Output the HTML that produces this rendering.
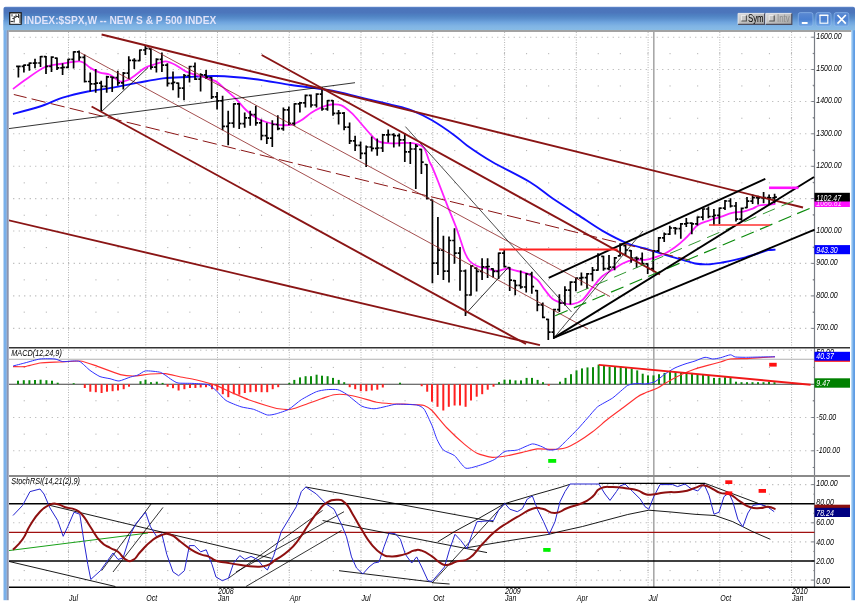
<!DOCTYPE html>
<html><head><meta charset="utf-8"><title>INDEX:$SPX,W -- NEW S &amp; P 500 INDEX</title>
<style>
html,body{margin:0;padding:0;background:#fff;}
body{width:861px;height:606px;position:relative;overflow:hidden;font-family:"Liberation Sans",sans-serif;}
svg{position:absolute;left:0;top:0;}
#chart{filter:blur(0.55px);}
#tb{position:absolute;left:0;top:0;width:861px;height:32px;}
#tb .ttl{position:absolute;left:24.1px;top:13.6px;font-size:10.5px;line-height:13px;transform-origin:0 0;transform:scaleX(0.97);font-weight:bold;color:rgba(242,238,255,.87);white-space:nowrap;}
.gt{position:absolute;top:13.8px;font-size:10px;line-height:10px;color:#000;transform-origin:0 0;transform:scaleX(0.78);white-space:nowrap;}
</style></head><body>
<svg id="frame" width="861" height="606" viewBox="0 0 861 606">
<defs>
<linearGradient id="tg" x1="0" y1="0" x2="0" y2="1">
<stop offset="0" stop-color="#6c92d6"/><stop offset="0.05" stop-color="#4c74ba"/><stop offset="0.25" stop-color="#4c76bc"/><stop offset="0.4" stop-color="#5084c4"/><stop offset="0.5" stop-color="#5a8ecc"/><stop offset="0.66" stop-color="#6ea4de"/><stop offset="0.82" stop-color="#80b4e4"/><stop offset="1" stop-color="#88bce6"/>
</linearGradient>
<linearGradient id="bg" x1="0" y1="0" x2="0" y2="1"><stop offset="0" stop-color="#5c8ad2"/><stop offset="0.5" stop-color="#4a7fd0"/><stop offset="1" stop-color="#72a8e4"/></linearGradient>
<linearGradient id="gg" x1="0" y1="0" x2="1" y2="1"><stop offset="0" stop-color="#dcdcdc"/><stop offset="0.45" stop-color="#c2c2c2"/><stop offset="1" stop-color="#a4a4a4"/></linearGradient>
</defs>
<rect x="3.5" y="20" width="3.3" height="580.2" fill="#7ab0ea"/>
<rect x="6.7" y="20" width="2" height="580.2" fill="#8c94ae"/>
<rect x="851.4" y="20" width="1.8" height="580.2" fill="#8cc0f0"/><rect x="853.1" y="20" width="1.9" height="580.2" fill="#5e9ce4"/>
<path d="M3.5,30.2V8.8Q3.5,6.8 5.5,6.8H853Q855,6.8 855,8.8V30.2Z" fill="url(#tg)"/>
<rect x="8.6" y="30.1" width="842.6" height="1.8" fill="#9a9a9a"/>
<g>
<rect x="9.1" y="12.1" width="12.7" height="12.7" fill="#1a1a1a"/>
<rect x="10.3" y="13.5" width="10.3" height="10.3" fill="#fff"/>
<path d="M14.2,16V22.5M12.3,18.5H14.2M14.2,17.2H16M16,14.5V17.5M16,16.5H18.5M18.5,14V18M12,14.2V16.5M20,14.5V23" stroke="#222" stroke-width="0.9" fill="none"/>
<path d="M10.5,21.5H13.5" stroke="#333" stroke-width="1.2"/>
</g>
<g>
<rect x="738.1" y="13.4" width="26.5" height="10.9" fill="url(#gg)"/>
<path d="M738.1,24.3V13.4H764.6" stroke="#e6e6ea" stroke-width="1" fill="none"/>
<path d="M738.1,24.3H764.6V13.4" stroke="#4c4c5c" stroke-width="1.2" fill="none"/>
<rect x="741.4" y="15.4" width="5" height="5.6" fill="#c8c8c8"/>
<path d="M741.4,21V15.4H746.4" stroke="#f0f0f0" stroke-width="0.9" fill="none"/>
<path d="M741.4,21H746.4V15.4" stroke="#505050" stroke-width="1.1" fill="none"/>
<rect x="765.8" y="13.4" width="26" height="10.9" fill="url(#gg)"/>
<path d="M765.8,24.3V13.4H791.8" stroke="#e6e6ea" stroke-width="1" fill="none"/>
<path d="M765.8,24.3H791.8V13.4" stroke="#4c4c5c" stroke-width="1.2" fill="none"/>
<rect x="769.2" y="15.4" width="5" height="5.6" fill="#c8c8c8"/>
<path d="M769.2,21V15.4H774.2" stroke="#f0f0f0" stroke-width="0.9" fill="none"/>
<path d="M769.2,21H774.2V15.4" stroke="#505050" stroke-width="1.1" fill="none"/>
</g>
<g stroke="rgba(150,190,240,.6)" stroke-width="1" fill="url(#bg)">
<rect x="798.3" y="12.6" width="14.6" height="13.6" rx="2"/>
<rect x="816" y="12.6" width="15" height="13.6" rx="2"/>
<rect x="834.2" y="12.6" width="14.6" height="13.6" rx="2"/>
</g>
<rect x="801.8" y="22" width="5.8" height="2" fill="#fff"/>
<rect x="820" y="15.4" width="7.8" height="7.8" fill="none" stroke="#fff" stroke-width="1.1"/>
<rect x="819.5" y="14.6" width="8.8" height="1.4" fill="#fff"/>
<path d="M837.5,15L845.8,23.6M845.8,15L837.5,23.6" stroke="#fff" stroke-width="1.7" fill="none"/>
</svg>
<svg id="chart" width="861" height="606" viewBox="0 0 861 606">
<defs><clipPath id="c"><rect x="9" y="32" width="842" height="574"/></clipPath></defs>
<g clip-path="url(#c)">
<g shape-rendering="auto"><line x1="68.5" y1="32" x2="68.5" y2="587" stroke="#b4b4b4" stroke-width="1" stroke-dasharray="1 1.5"/><line x1="145.8" y1="32" x2="145.8" y2="587" stroke="#b4b4b4" stroke-width="1" stroke-dasharray="1 1.5"/><line x1="217.5" y1="32" x2="217.5" y2="587" stroke="#b4b4b4" stroke-width="1" stroke-dasharray="1 1.5"/><line x1="289.3" y1="32" x2="289.3" y2="587" stroke="#b4b4b4" stroke-width="1" stroke-dasharray="1 1.5"/><line x1="361" y1="32" x2="361" y2="587" stroke="#b4b4b4" stroke-width="1" stroke-dasharray="1 1.5"/><line x1="432.8" y1="32" x2="432.8" y2="587" stroke="#b4b4b4" stroke-width="1" stroke-dasharray="1 1.5"/><line x1="504.6" y1="32" x2="504.6" y2="587" stroke="#b4b4b4" stroke-width="1" stroke-dasharray="1 1.5"/><line x1="576.3" y1="32" x2="576.3" y2="587" stroke="#b4b4b4" stroke-width="1" stroke-dasharray="1 1.5"/><line x1="648.1" y1="32" x2="648.1" y2="587" stroke="#b4b4b4" stroke-width="1" stroke-dasharray="1 1.5"/><line x1="719.8" y1="32" x2="719.8" y2="587" stroke="#b4b4b4" stroke-width="1" stroke-dasharray="1 1.5"/><line x1="791.6" y1="32" x2="791.6" y2="587" stroke="#b4b4b4" stroke-width="1" stroke-dasharray="1 1.5"/><line x1="7.7" y1="328.4" x2="814.5" y2="328.4" stroke="#b2b2b2" stroke-width="1.1" stroke-dasharray="1.1 4.4"/><line x1="7.7" y1="295.9" x2="814.5" y2="295.9" stroke="#b2b2b2" stroke-width="1.1" stroke-dasharray="1.1 4.4"/><line x1="7.7" y1="263.4" x2="814.5" y2="263.4" stroke="#b2b2b2" stroke-width="1.1" stroke-dasharray="1.1 4.4"/><line x1="7.7" y1="231" x2="814.5" y2="231" stroke="#b2b2b2" stroke-width="1.1" stroke-dasharray="1.1 4.4"/><line x1="7.7" y1="198.6" x2="814.5" y2="198.6" stroke="#b2b2b2" stroke-width="1.1" stroke-dasharray="1.1 4.4"/><line x1="7.7" y1="166.3" x2="814.5" y2="166.3" stroke="#b2b2b2" stroke-width="1.1" stroke-dasharray="1.1 4.4"/><line x1="7.7" y1="133.8" x2="814.5" y2="133.8" stroke="#b2b2b2" stroke-width="1.1" stroke-dasharray="1.1 4.4"/><line x1="7.7" y1="101.5" x2="814.5" y2="101.5" stroke="#b2b2b2" stroke-width="1.1" stroke-dasharray="1.1 4.4"/><line x1="7.7" y1="69.5" x2="814.5" y2="69.5" stroke="#b2b2b2" stroke-width="1.1" stroke-dasharray="1.1 4.4"/><line x1="7.7" y1="37.2" x2="814.5" y2="37.2" stroke="#b2b2b2" stroke-width="1.1" stroke-dasharray="1.1 4.4"/><rect x="23.7" y="311.6" width="1.1" height="1.1" fill="#b4b4b4"/><rect x="45.8" y="311.6" width="1.1" height="1.1" fill="#b4b4b4"/><rect x="67.8" y="311.6" width="1.1" height="1.1" fill="#b4b4b4"/><rect x="95.4" y="311.6" width="1.1" height="1.1" fill="#b4b4b4"/><rect x="117.5" y="311.6" width="1.1" height="1.1" fill="#b4b4b4"/><rect x="145.1" y="311.6" width="1.1" height="1.1" fill="#b4b4b4"/><rect x="167.2" y="311.6" width="1.1" height="1.1" fill="#b4b4b4"/><rect x="189.3" y="311.6" width="1.1" height="1.1" fill="#b4b4b4"/><rect x="216.9" y="311.6" width="1.1" height="1.1" fill="#b4b4b4"/><rect x="238.9" y="311.6" width="1.1" height="1.1" fill="#b4b4b4"/><rect x="261" y="311.6" width="1.1" height="1.1" fill="#b4b4b4"/><rect x="288.6" y="311.6" width="1.1" height="1.1" fill="#b4b4b4"/><rect x="310.7" y="311.6" width="1.1" height="1.1" fill="#b4b4b4"/><rect x="332.8" y="311.6" width="1.1" height="1.1" fill="#b4b4b4"/><rect x="360.4" y="311.6" width="1.1" height="1.1" fill="#b4b4b4"/><rect x="382.5" y="311.6" width="1.1" height="1.1" fill="#b4b4b4"/><rect x="404.5" y="311.6" width="1.1" height="1.1" fill="#b4b4b4"/><rect x="432.1" y="311.6" width="1.1" height="1.1" fill="#b4b4b4"/><rect x="454.2" y="311.6" width="1.1" height="1.1" fill="#b4b4b4"/><rect x="476.3" y="311.6" width="1.1" height="1.1" fill="#b4b4b4"/><rect x="503.9" y="311.6" width="1.1" height="1.1" fill="#b4b4b4"/><rect x="526" y="311.6" width="1.1" height="1.1" fill="#b4b4b4"/><rect x="548.1" y="311.6" width="1.1" height="1.1" fill="#b4b4b4"/><rect x="575.7" y="311.6" width="1.1" height="1.1" fill="#b4b4b4"/><rect x="597.7" y="311.6" width="1.1" height="1.1" fill="#b4b4b4"/><rect x="619.8" y="311.6" width="1.1" height="1.1" fill="#b4b4b4"/><rect x="647.4" y="311.6" width="1.1" height="1.1" fill="#b4b4b4"/><rect x="669.5" y="311.6" width="1.1" height="1.1" fill="#b4b4b4"/><rect x="697.1" y="311.6" width="1.1" height="1.1" fill="#b4b4b4"/><rect x="719.2" y="311.6" width="1.1" height="1.1" fill="#b4b4b4"/><rect x="741.3" y="311.6" width="1.1" height="1.1" fill="#b4b4b4"/><rect x="768.9" y="311.6" width="1.1" height="1.1" fill="#b4b4b4"/><rect x="790.9" y="311.6" width="1.1" height="1.1" fill="#b4b4b4"/><rect x="813" y="311.6" width="1.1" height="1.1" fill="#b4b4b4"/><rect x="23.7" y="279.3" width="1.1" height="1.1" fill="#b4b4b4"/><rect x="45.8" y="279.3" width="1.1" height="1.1" fill="#b4b4b4"/><rect x="67.8" y="279.3" width="1.1" height="1.1" fill="#b4b4b4"/><rect x="95.4" y="279.3" width="1.1" height="1.1" fill="#b4b4b4"/><rect x="117.5" y="279.3" width="1.1" height="1.1" fill="#b4b4b4"/><rect x="145.1" y="279.3" width="1.1" height="1.1" fill="#b4b4b4"/><rect x="167.2" y="279.3" width="1.1" height="1.1" fill="#b4b4b4"/><rect x="189.3" y="279.3" width="1.1" height="1.1" fill="#b4b4b4"/><rect x="216.9" y="279.3" width="1.1" height="1.1" fill="#b4b4b4"/><rect x="238.9" y="279.3" width="1.1" height="1.1" fill="#b4b4b4"/><rect x="261" y="279.3" width="1.1" height="1.1" fill="#b4b4b4"/><rect x="288.6" y="279.3" width="1.1" height="1.1" fill="#b4b4b4"/><rect x="310.7" y="279.3" width="1.1" height="1.1" fill="#b4b4b4"/><rect x="332.8" y="279.3" width="1.1" height="1.1" fill="#b4b4b4"/><rect x="360.4" y="279.3" width="1.1" height="1.1" fill="#b4b4b4"/><rect x="382.5" y="279.3" width="1.1" height="1.1" fill="#b4b4b4"/><rect x="404.5" y="279.3" width="1.1" height="1.1" fill="#b4b4b4"/><rect x="432.1" y="279.3" width="1.1" height="1.1" fill="#b4b4b4"/><rect x="454.2" y="279.3" width="1.1" height="1.1" fill="#b4b4b4"/><rect x="476.3" y="279.3" width="1.1" height="1.1" fill="#b4b4b4"/><rect x="503.9" y="279.3" width="1.1" height="1.1" fill="#b4b4b4"/><rect x="526" y="279.3" width="1.1" height="1.1" fill="#b4b4b4"/><rect x="548.1" y="279.3" width="1.1" height="1.1" fill="#b4b4b4"/><rect x="575.7" y="279.3" width="1.1" height="1.1" fill="#b4b4b4"/><rect x="597.7" y="279.3" width="1.1" height="1.1" fill="#b4b4b4"/><rect x="619.8" y="279.3" width="1.1" height="1.1" fill="#b4b4b4"/><rect x="647.4" y="279.3" width="1.1" height="1.1" fill="#b4b4b4"/><rect x="669.5" y="279.3" width="1.1" height="1.1" fill="#b4b4b4"/><rect x="697.1" y="279.3" width="1.1" height="1.1" fill="#b4b4b4"/><rect x="719.2" y="279.3" width="1.1" height="1.1" fill="#b4b4b4"/><rect x="741.3" y="279.3" width="1.1" height="1.1" fill="#b4b4b4"/><rect x="768.9" y="279.3" width="1.1" height="1.1" fill="#b4b4b4"/><rect x="790.9" y="279.3" width="1.1" height="1.1" fill="#b4b4b4"/><rect x="813" y="279.3" width="1.1" height="1.1" fill="#b4b4b4"/><rect x="23.7" y="247" width="1.1" height="1.1" fill="#b4b4b4"/><rect x="45.8" y="247" width="1.1" height="1.1" fill="#b4b4b4"/><rect x="67.8" y="247" width="1.1" height="1.1" fill="#b4b4b4"/><rect x="95.4" y="247" width="1.1" height="1.1" fill="#b4b4b4"/><rect x="117.5" y="247" width="1.1" height="1.1" fill="#b4b4b4"/><rect x="145.1" y="247" width="1.1" height="1.1" fill="#b4b4b4"/><rect x="167.2" y="247" width="1.1" height="1.1" fill="#b4b4b4"/><rect x="189.3" y="247" width="1.1" height="1.1" fill="#b4b4b4"/><rect x="216.9" y="247" width="1.1" height="1.1" fill="#b4b4b4"/><rect x="238.9" y="247" width="1.1" height="1.1" fill="#b4b4b4"/><rect x="261" y="247" width="1.1" height="1.1" fill="#b4b4b4"/><rect x="288.6" y="247" width="1.1" height="1.1" fill="#b4b4b4"/><rect x="310.7" y="247" width="1.1" height="1.1" fill="#b4b4b4"/><rect x="332.8" y="247" width="1.1" height="1.1" fill="#b4b4b4"/><rect x="360.4" y="247" width="1.1" height="1.1" fill="#b4b4b4"/><rect x="382.5" y="247" width="1.1" height="1.1" fill="#b4b4b4"/><rect x="404.5" y="247" width="1.1" height="1.1" fill="#b4b4b4"/><rect x="432.1" y="247" width="1.1" height="1.1" fill="#b4b4b4"/><rect x="454.2" y="247" width="1.1" height="1.1" fill="#b4b4b4"/><rect x="476.3" y="247" width="1.1" height="1.1" fill="#b4b4b4"/><rect x="503.9" y="247" width="1.1" height="1.1" fill="#b4b4b4"/><rect x="526" y="247" width="1.1" height="1.1" fill="#b4b4b4"/><rect x="548.1" y="247" width="1.1" height="1.1" fill="#b4b4b4"/><rect x="575.7" y="247" width="1.1" height="1.1" fill="#b4b4b4"/><rect x="597.7" y="247" width="1.1" height="1.1" fill="#b4b4b4"/><rect x="619.8" y="247" width="1.1" height="1.1" fill="#b4b4b4"/><rect x="647.4" y="247" width="1.1" height="1.1" fill="#b4b4b4"/><rect x="669.5" y="247" width="1.1" height="1.1" fill="#b4b4b4"/><rect x="697.1" y="247" width="1.1" height="1.1" fill="#b4b4b4"/><rect x="719.2" y="247" width="1.1" height="1.1" fill="#b4b4b4"/><rect x="741.3" y="247" width="1.1" height="1.1" fill="#b4b4b4"/><rect x="768.9" y="247" width="1.1" height="1.1" fill="#b4b4b4"/><rect x="790.9" y="247" width="1.1" height="1.1" fill="#b4b4b4"/><rect x="813" y="247" width="1.1" height="1.1" fill="#b4b4b4"/><rect x="23.7" y="214.7" width="1.1" height="1.1" fill="#b4b4b4"/><rect x="45.8" y="214.7" width="1.1" height="1.1" fill="#b4b4b4"/><rect x="67.8" y="214.7" width="1.1" height="1.1" fill="#b4b4b4"/><rect x="95.4" y="214.7" width="1.1" height="1.1" fill="#b4b4b4"/><rect x="117.5" y="214.7" width="1.1" height="1.1" fill="#b4b4b4"/><rect x="145.1" y="214.7" width="1.1" height="1.1" fill="#b4b4b4"/><rect x="167.2" y="214.7" width="1.1" height="1.1" fill="#b4b4b4"/><rect x="189.3" y="214.7" width="1.1" height="1.1" fill="#b4b4b4"/><rect x="216.9" y="214.7" width="1.1" height="1.1" fill="#b4b4b4"/><rect x="238.9" y="214.7" width="1.1" height="1.1" fill="#b4b4b4"/><rect x="261" y="214.7" width="1.1" height="1.1" fill="#b4b4b4"/><rect x="288.6" y="214.7" width="1.1" height="1.1" fill="#b4b4b4"/><rect x="310.7" y="214.7" width="1.1" height="1.1" fill="#b4b4b4"/><rect x="332.8" y="214.7" width="1.1" height="1.1" fill="#b4b4b4"/><rect x="360.4" y="214.7" width="1.1" height="1.1" fill="#b4b4b4"/><rect x="382.5" y="214.7" width="1.1" height="1.1" fill="#b4b4b4"/><rect x="404.5" y="214.7" width="1.1" height="1.1" fill="#b4b4b4"/><rect x="432.1" y="214.7" width="1.1" height="1.1" fill="#b4b4b4"/><rect x="454.2" y="214.7" width="1.1" height="1.1" fill="#b4b4b4"/><rect x="476.3" y="214.7" width="1.1" height="1.1" fill="#b4b4b4"/><rect x="503.9" y="214.7" width="1.1" height="1.1" fill="#b4b4b4"/><rect x="526" y="214.7" width="1.1" height="1.1" fill="#b4b4b4"/><rect x="548.1" y="214.7" width="1.1" height="1.1" fill="#b4b4b4"/><rect x="575.7" y="214.7" width="1.1" height="1.1" fill="#b4b4b4"/><rect x="597.7" y="214.7" width="1.1" height="1.1" fill="#b4b4b4"/><rect x="619.8" y="214.7" width="1.1" height="1.1" fill="#b4b4b4"/><rect x="647.4" y="214.7" width="1.1" height="1.1" fill="#b4b4b4"/><rect x="669.5" y="214.7" width="1.1" height="1.1" fill="#b4b4b4"/><rect x="697.1" y="214.7" width="1.1" height="1.1" fill="#b4b4b4"/><rect x="719.2" y="214.7" width="1.1" height="1.1" fill="#b4b4b4"/><rect x="741.3" y="214.7" width="1.1" height="1.1" fill="#b4b4b4"/><rect x="768.9" y="214.7" width="1.1" height="1.1" fill="#b4b4b4"/><rect x="790.9" y="214.7" width="1.1" height="1.1" fill="#b4b4b4"/><rect x="813" y="214.7" width="1.1" height="1.1" fill="#b4b4b4"/><rect x="23.7" y="182.3" width="1.1" height="1.1" fill="#b4b4b4"/><rect x="45.8" y="182.3" width="1.1" height="1.1" fill="#b4b4b4"/><rect x="67.8" y="182.3" width="1.1" height="1.1" fill="#b4b4b4"/><rect x="95.4" y="182.3" width="1.1" height="1.1" fill="#b4b4b4"/><rect x="117.5" y="182.3" width="1.1" height="1.1" fill="#b4b4b4"/><rect x="145.1" y="182.3" width="1.1" height="1.1" fill="#b4b4b4"/><rect x="167.2" y="182.3" width="1.1" height="1.1" fill="#b4b4b4"/><rect x="189.3" y="182.3" width="1.1" height="1.1" fill="#b4b4b4"/><rect x="216.9" y="182.3" width="1.1" height="1.1" fill="#b4b4b4"/><rect x="238.9" y="182.3" width="1.1" height="1.1" fill="#b4b4b4"/><rect x="261" y="182.3" width="1.1" height="1.1" fill="#b4b4b4"/><rect x="288.6" y="182.3" width="1.1" height="1.1" fill="#b4b4b4"/><rect x="310.7" y="182.3" width="1.1" height="1.1" fill="#b4b4b4"/><rect x="332.8" y="182.3" width="1.1" height="1.1" fill="#b4b4b4"/><rect x="360.4" y="182.3" width="1.1" height="1.1" fill="#b4b4b4"/><rect x="382.5" y="182.3" width="1.1" height="1.1" fill="#b4b4b4"/><rect x="404.5" y="182.3" width="1.1" height="1.1" fill="#b4b4b4"/><rect x="432.1" y="182.3" width="1.1" height="1.1" fill="#b4b4b4"/><rect x="454.2" y="182.3" width="1.1" height="1.1" fill="#b4b4b4"/><rect x="476.3" y="182.3" width="1.1" height="1.1" fill="#b4b4b4"/><rect x="503.9" y="182.3" width="1.1" height="1.1" fill="#b4b4b4"/><rect x="526" y="182.3" width="1.1" height="1.1" fill="#b4b4b4"/><rect x="548.1" y="182.3" width="1.1" height="1.1" fill="#b4b4b4"/><rect x="575.7" y="182.3" width="1.1" height="1.1" fill="#b4b4b4"/><rect x="597.7" y="182.3" width="1.1" height="1.1" fill="#b4b4b4"/><rect x="619.8" y="182.3" width="1.1" height="1.1" fill="#b4b4b4"/><rect x="647.4" y="182.3" width="1.1" height="1.1" fill="#b4b4b4"/><rect x="669.5" y="182.3" width="1.1" height="1.1" fill="#b4b4b4"/><rect x="697.1" y="182.3" width="1.1" height="1.1" fill="#b4b4b4"/><rect x="719.2" y="182.3" width="1.1" height="1.1" fill="#b4b4b4"/><rect x="741.3" y="182.3" width="1.1" height="1.1" fill="#b4b4b4"/><rect x="768.9" y="182.3" width="1.1" height="1.1" fill="#b4b4b4"/><rect x="790.9" y="182.3" width="1.1" height="1.1" fill="#b4b4b4"/><rect x="813" y="182.3" width="1.1" height="1.1" fill="#b4b4b4"/><rect x="23.7" y="150" width="1.1" height="1.1" fill="#b4b4b4"/><rect x="45.8" y="150" width="1.1" height="1.1" fill="#b4b4b4"/><rect x="67.8" y="150" width="1.1" height="1.1" fill="#b4b4b4"/><rect x="95.4" y="150" width="1.1" height="1.1" fill="#b4b4b4"/><rect x="117.5" y="150" width="1.1" height="1.1" fill="#b4b4b4"/><rect x="145.1" y="150" width="1.1" height="1.1" fill="#b4b4b4"/><rect x="167.2" y="150" width="1.1" height="1.1" fill="#b4b4b4"/><rect x="189.3" y="150" width="1.1" height="1.1" fill="#b4b4b4"/><rect x="216.9" y="150" width="1.1" height="1.1" fill="#b4b4b4"/><rect x="238.9" y="150" width="1.1" height="1.1" fill="#b4b4b4"/><rect x="261" y="150" width="1.1" height="1.1" fill="#b4b4b4"/><rect x="288.6" y="150" width="1.1" height="1.1" fill="#b4b4b4"/><rect x="310.7" y="150" width="1.1" height="1.1" fill="#b4b4b4"/><rect x="332.8" y="150" width="1.1" height="1.1" fill="#b4b4b4"/><rect x="360.4" y="150" width="1.1" height="1.1" fill="#b4b4b4"/><rect x="382.5" y="150" width="1.1" height="1.1" fill="#b4b4b4"/><rect x="404.5" y="150" width="1.1" height="1.1" fill="#b4b4b4"/><rect x="432.1" y="150" width="1.1" height="1.1" fill="#b4b4b4"/><rect x="454.2" y="150" width="1.1" height="1.1" fill="#b4b4b4"/><rect x="476.3" y="150" width="1.1" height="1.1" fill="#b4b4b4"/><rect x="503.9" y="150" width="1.1" height="1.1" fill="#b4b4b4"/><rect x="526" y="150" width="1.1" height="1.1" fill="#b4b4b4"/><rect x="548.1" y="150" width="1.1" height="1.1" fill="#b4b4b4"/><rect x="575.7" y="150" width="1.1" height="1.1" fill="#b4b4b4"/><rect x="597.7" y="150" width="1.1" height="1.1" fill="#b4b4b4"/><rect x="619.8" y="150" width="1.1" height="1.1" fill="#b4b4b4"/><rect x="647.4" y="150" width="1.1" height="1.1" fill="#b4b4b4"/><rect x="669.5" y="150" width="1.1" height="1.1" fill="#b4b4b4"/><rect x="697.1" y="150" width="1.1" height="1.1" fill="#b4b4b4"/><rect x="719.2" y="150" width="1.1" height="1.1" fill="#b4b4b4"/><rect x="741.3" y="150" width="1.1" height="1.1" fill="#b4b4b4"/><rect x="768.9" y="150" width="1.1" height="1.1" fill="#b4b4b4"/><rect x="790.9" y="150" width="1.1" height="1.1" fill="#b4b4b4"/><rect x="813" y="150" width="1.1" height="1.1" fill="#b4b4b4"/><rect x="23.7" y="117.7" width="1.1" height="1.1" fill="#b4b4b4"/><rect x="45.8" y="117.7" width="1.1" height="1.1" fill="#b4b4b4"/><rect x="67.8" y="117.7" width="1.1" height="1.1" fill="#b4b4b4"/><rect x="95.4" y="117.7" width="1.1" height="1.1" fill="#b4b4b4"/><rect x="117.5" y="117.7" width="1.1" height="1.1" fill="#b4b4b4"/><rect x="145.1" y="117.7" width="1.1" height="1.1" fill="#b4b4b4"/><rect x="167.2" y="117.7" width="1.1" height="1.1" fill="#b4b4b4"/><rect x="189.3" y="117.7" width="1.1" height="1.1" fill="#b4b4b4"/><rect x="216.9" y="117.7" width="1.1" height="1.1" fill="#b4b4b4"/><rect x="238.9" y="117.7" width="1.1" height="1.1" fill="#b4b4b4"/><rect x="261" y="117.7" width="1.1" height="1.1" fill="#b4b4b4"/><rect x="288.6" y="117.7" width="1.1" height="1.1" fill="#b4b4b4"/><rect x="310.7" y="117.7" width="1.1" height="1.1" fill="#b4b4b4"/><rect x="332.8" y="117.7" width="1.1" height="1.1" fill="#b4b4b4"/><rect x="360.4" y="117.7" width="1.1" height="1.1" fill="#b4b4b4"/><rect x="382.5" y="117.7" width="1.1" height="1.1" fill="#b4b4b4"/><rect x="404.5" y="117.7" width="1.1" height="1.1" fill="#b4b4b4"/><rect x="432.1" y="117.7" width="1.1" height="1.1" fill="#b4b4b4"/><rect x="454.2" y="117.7" width="1.1" height="1.1" fill="#b4b4b4"/><rect x="476.3" y="117.7" width="1.1" height="1.1" fill="#b4b4b4"/><rect x="503.9" y="117.7" width="1.1" height="1.1" fill="#b4b4b4"/><rect x="526" y="117.7" width="1.1" height="1.1" fill="#b4b4b4"/><rect x="548.1" y="117.7" width="1.1" height="1.1" fill="#b4b4b4"/><rect x="575.7" y="117.7" width="1.1" height="1.1" fill="#b4b4b4"/><rect x="597.7" y="117.7" width="1.1" height="1.1" fill="#b4b4b4"/><rect x="619.8" y="117.7" width="1.1" height="1.1" fill="#b4b4b4"/><rect x="647.4" y="117.7" width="1.1" height="1.1" fill="#b4b4b4"/><rect x="669.5" y="117.7" width="1.1" height="1.1" fill="#b4b4b4"/><rect x="697.1" y="117.7" width="1.1" height="1.1" fill="#b4b4b4"/><rect x="719.2" y="117.7" width="1.1" height="1.1" fill="#b4b4b4"/><rect x="741.3" y="117.7" width="1.1" height="1.1" fill="#b4b4b4"/><rect x="768.9" y="117.7" width="1.1" height="1.1" fill="#b4b4b4"/><rect x="790.9" y="117.7" width="1.1" height="1.1" fill="#b4b4b4"/><rect x="813" y="117.7" width="1.1" height="1.1" fill="#b4b4b4"/><rect x="23.7" y="85.4" width="1.1" height="1.1" fill="#b4b4b4"/><rect x="45.8" y="85.4" width="1.1" height="1.1" fill="#b4b4b4"/><rect x="67.8" y="85.4" width="1.1" height="1.1" fill="#b4b4b4"/><rect x="95.4" y="85.4" width="1.1" height="1.1" fill="#b4b4b4"/><rect x="117.5" y="85.4" width="1.1" height="1.1" fill="#b4b4b4"/><rect x="145.1" y="85.4" width="1.1" height="1.1" fill="#b4b4b4"/><rect x="167.2" y="85.4" width="1.1" height="1.1" fill="#b4b4b4"/><rect x="189.3" y="85.4" width="1.1" height="1.1" fill="#b4b4b4"/><rect x="216.9" y="85.4" width="1.1" height="1.1" fill="#b4b4b4"/><rect x="238.9" y="85.4" width="1.1" height="1.1" fill="#b4b4b4"/><rect x="261" y="85.4" width="1.1" height="1.1" fill="#b4b4b4"/><rect x="288.6" y="85.4" width="1.1" height="1.1" fill="#b4b4b4"/><rect x="310.7" y="85.4" width="1.1" height="1.1" fill="#b4b4b4"/><rect x="332.8" y="85.4" width="1.1" height="1.1" fill="#b4b4b4"/><rect x="360.4" y="85.4" width="1.1" height="1.1" fill="#b4b4b4"/><rect x="382.5" y="85.4" width="1.1" height="1.1" fill="#b4b4b4"/><rect x="404.5" y="85.4" width="1.1" height="1.1" fill="#b4b4b4"/><rect x="432.1" y="85.4" width="1.1" height="1.1" fill="#b4b4b4"/><rect x="454.2" y="85.4" width="1.1" height="1.1" fill="#b4b4b4"/><rect x="476.3" y="85.4" width="1.1" height="1.1" fill="#b4b4b4"/><rect x="503.9" y="85.4" width="1.1" height="1.1" fill="#b4b4b4"/><rect x="526" y="85.4" width="1.1" height="1.1" fill="#b4b4b4"/><rect x="548.1" y="85.4" width="1.1" height="1.1" fill="#b4b4b4"/><rect x="575.7" y="85.4" width="1.1" height="1.1" fill="#b4b4b4"/><rect x="597.7" y="85.4" width="1.1" height="1.1" fill="#b4b4b4"/><rect x="619.8" y="85.4" width="1.1" height="1.1" fill="#b4b4b4"/><rect x="647.4" y="85.4" width="1.1" height="1.1" fill="#b4b4b4"/><rect x="669.5" y="85.4" width="1.1" height="1.1" fill="#b4b4b4"/><rect x="697.1" y="85.4" width="1.1" height="1.1" fill="#b4b4b4"/><rect x="719.2" y="85.4" width="1.1" height="1.1" fill="#b4b4b4"/><rect x="741.3" y="85.4" width="1.1" height="1.1" fill="#b4b4b4"/><rect x="768.9" y="85.4" width="1.1" height="1.1" fill="#b4b4b4"/><rect x="790.9" y="85.4" width="1.1" height="1.1" fill="#b4b4b4"/><rect x="813" y="85.4" width="1.1" height="1.1" fill="#b4b4b4"/><rect x="23.7" y="53.1" width="1.1" height="1.1" fill="#b4b4b4"/><rect x="45.8" y="53.1" width="1.1" height="1.1" fill="#b4b4b4"/><rect x="67.8" y="53.1" width="1.1" height="1.1" fill="#b4b4b4"/><rect x="95.4" y="53.1" width="1.1" height="1.1" fill="#b4b4b4"/><rect x="117.5" y="53.1" width="1.1" height="1.1" fill="#b4b4b4"/><rect x="145.1" y="53.1" width="1.1" height="1.1" fill="#b4b4b4"/><rect x="167.2" y="53.1" width="1.1" height="1.1" fill="#b4b4b4"/><rect x="189.3" y="53.1" width="1.1" height="1.1" fill="#b4b4b4"/><rect x="216.9" y="53.1" width="1.1" height="1.1" fill="#b4b4b4"/><rect x="238.9" y="53.1" width="1.1" height="1.1" fill="#b4b4b4"/><rect x="261" y="53.1" width="1.1" height="1.1" fill="#b4b4b4"/><rect x="288.6" y="53.1" width="1.1" height="1.1" fill="#b4b4b4"/><rect x="310.7" y="53.1" width="1.1" height="1.1" fill="#b4b4b4"/><rect x="332.8" y="53.1" width="1.1" height="1.1" fill="#b4b4b4"/><rect x="360.4" y="53.1" width="1.1" height="1.1" fill="#b4b4b4"/><rect x="382.5" y="53.1" width="1.1" height="1.1" fill="#b4b4b4"/><rect x="404.5" y="53.1" width="1.1" height="1.1" fill="#b4b4b4"/><rect x="432.1" y="53.1" width="1.1" height="1.1" fill="#b4b4b4"/><rect x="454.2" y="53.1" width="1.1" height="1.1" fill="#b4b4b4"/><rect x="476.3" y="53.1" width="1.1" height="1.1" fill="#b4b4b4"/><rect x="503.9" y="53.1" width="1.1" height="1.1" fill="#b4b4b4"/><rect x="526" y="53.1" width="1.1" height="1.1" fill="#b4b4b4"/><rect x="548.1" y="53.1" width="1.1" height="1.1" fill="#b4b4b4"/><rect x="575.7" y="53.1" width="1.1" height="1.1" fill="#b4b4b4"/><rect x="597.7" y="53.1" width="1.1" height="1.1" fill="#b4b4b4"/><rect x="619.8" y="53.1" width="1.1" height="1.1" fill="#b4b4b4"/><rect x="647.4" y="53.1" width="1.1" height="1.1" fill="#b4b4b4"/><rect x="669.5" y="53.1" width="1.1" height="1.1" fill="#b4b4b4"/><rect x="697.1" y="53.1" width="1.1" height="1.1" fill="#b4b4b4"/><rect x="719.2" y="53.1" width="1.1" height="1.1" fill="#b4b4b4"/><rect x="741.3" y="53.1" width="1.1" height="1.1" fill="#b4b4b4"/><rect x="768.9" y="53.1" width="1.1" height="1.1" fill="#b4b4b4"/><rect x="790.9" y="53.1" width="1.1" height="1.1" fill="#b4b4b4"/><rect x="813" y="53.1" width="1.1" height="1.1" fill="#b4b4b4"/><rect x="23.7" y="400.2" width="1.1" height="1.1" fill="#b4b4b4"/><rect x="45.8" y="400.2" width="1.1" height="1.1" fill="#b4b4b4"/><rect x="67.8" y="400.2" width="1.1" height="1.1" fill="#b4b4b4"/><rect x="95.4" y="400.2" width="1.1" height="1.1" fill="#b4b4b4"/><rect x="117.5" y="400.2" width="1.1" height="1.1" fill="#b4b4b4"/><rect x="145.1" y="400.2" width="1.1" height="1.1" fill="#b4b4b4"/><rect x="167.2" y="400.2" width="1.1" height="1.1" fill="#b4b4b4"/><rect x="189.3" y="400.2" width="1.1" height="1.1" fill="#b4b4b4"/><rect x="216.9" y="400.2" width="1.1" height="1.1" fill="#b4b4b4"/><rect x="238.9" y="400.2" width="1.1" height="1.1" fill="#b4b4b4"/><rect x="261" y="400.2" width="1.1" height="1.1" fill="#b4b4b4"/><rect x="288.6" y="400.2" width="1.1" height="1.1" fill="#b4b4b4"/><rect x="310.7" y="400.2" width="1.1" height="1.1" fill="#b4b4b4"/><rect x="332.8" y="400.2" width="1.1" height="1.1" fill="#b4b4b4"/><rect x="360.4" y="400.2" width="1.1" height="1.1" fill="#b4b4b4"/><rect x="382.5" y="400.2" width="1.1" height="1.1" fill="#b4b4b4"/><rect x="404.5" y="400.2" width="1.1" height="1.1" fill="#b4b4b4"/><rect x="432.1" y="400.2" width="1.1" height="1.1" fill="#b4b4b4"/><rect x="454.2" y="400.2" width="1.1" height="1.1" fill="#b4b4b4"/><rect x="476.3" y="400.2" width="1.1" height="1.1" fill="#b4b4b4"/><rect x="503.9" y="400.2" width="1.1" height="1.1" fill="#b4b4b4"/><rect x="526" y="400.2" width="1.1" height="1.1" fill="#b4b4b4"/><rect x="548.1" y="400.2" width="1.1" height="1.1" fill="#b4b4b4"/><rect x="575.7" y="400.2" width="1.1" height="1.1" fill="#b4b4b4"/><rect x="597.7" y="400.2" width="1.1" height="1.1" fill="#b4b4b4"/><rect x="619.8" y="400.2" width="1.1" height="1.1" fill="#b4b4b4"/><rect x="647.4" y="400.2" width="1.1" height="1.1" fill="#b4b4b4"/><rect x="669.5" y="400.2" width="1.1" height="1.1" fill="#b4b4b4"/><rect x="697.1" y="400.2" width="1.1" height="1.1" fill="#b4b4b4"/><rect x="719.2" y="400.2" width="1.1" height="1.1" fill="#b4b4b4"/><rect x="741.3" y="400.2" width="1.1" height="1.1" fill="#b4b4b4"/><rect x="768.9" y="400.2" width="1.1" height="1.1" fill="#b4b4b4"/><rect x="790.9" y="400.2" width="1.1" height="1.1" fill="#b4b4b4"/><rect x="813" y="400.2" width="1.1" height="1.1" fill="#b4b4b4"/><rect x="23.7" y="433.6" width="1.1" height="1.1" fill="#b4b4b4"/><rect x="45.8" y="433.6" width="1.1" height="1.1" fill="#b4b4b4"/><rect x="67.8" y="433.6" width="1.1" height="1.1" fill="#b4b4b4"/><rect x="95.4" y="433.6" width="1.1" height="1.1" fill="#b4b4b4"/><rect x="117.5" y="433.6" width="1.1" height="1.1" fill="#b4b4b4"/><rect x="145.1" y="433.6" width="1.1" height="1.1" fill="#b4b4b4"/><rect x="167.2" y="433.6" width="1.1" height="1.1" fill="#b4b4b4"/><rect x="189.3" y="433.6" width="1.1" height="1.1" fill="#b4b4b4"/><rect x="216.9" y="433.6" width="1.1" height="1.1" fill="#b4b4b4"/><rect x="238.9" y="433.6" width="1.1" height="1.1" fill="#b4b4b4"/><rect x="261" y="433.6" width="1.1" height="1.1" fill="#b4b4b4"/><rect x="288.6" y="433.6" width="1.1" height="1.1" fill="#b4b4b4"/><rect x="310.7" y="433.6" width="1.1" height="1.1" fill="#b4b4b4"/><rect x="332.8" y="433.6" width="1.1" height="1.1" fill="#b4b4b4"/><rect x="360.4" y="433.6" width="1.1" height="1.1" fill="#b4b4b4"/><rect x="382.5" y="433.6" width="1.1" height="1.1" fill="#b4b4b4"/><rect x="404.5" y="433.6" width="1.1" height="1.1" fill="#b4b4b4"/><rect x="432.1" y="433.6" width="1.1" height="1.1" fill="#b4b4b4"/><rect x="454.2" y="433.6" width="1.1" height="1.1" fill="#b4b4b4"/><rect x="476.3" y="433.6" width="1.1" height="1.1" fill="#b4b4b4"/><rect x="503.9" y="433.6" width="1.1" height="1.1" fill="#b4b4b4"/><rect x="526" y="433.6" width="1.1" height="1.1" fill="#b4b4b4"/><rect x="548.1" y="433.6" width="1.1" height="1.1" fill="#b4b4b4"/><rect x="575.7" y="433.6" width="1.1" height="1.1" fill="#b4b4b4"/><rect x="597.7" y="433.6" width="1.1" height="1.1" fill="#b4b4b4"/><rect x="619.8" y="433.6" width="1.1" height="1.1" fill="#b4b4b4"/><rect x="647.4" y="433.6" width="1.1" height="1.1" fill="#b4b4b4"/><rect x="669.5" y="433.6" width="1.1" height="1.1" fill="#b4b4b4"/><rect x="697.1" y="433.6" width="1.1" height="1.1" fill="#b4b4b4"/><rect x="719.2" y="433.6" width="1.1" height="1.1" fill="#b4b4b4"/><rect x="741.3" y="433.6" width="1.1" height="1.1" fill="#b4b4b4"/><rect x="768.9" y="433.6" width="1.1" height="1.1" fill="#b4b4b4"/><rect x="790.9" y="433.6" width="1.1" height="1.1" fill="#b4b4b4"/><rect x="813" y="433.6" width="1.1" height="1.1" fill="#b4b4b4"/><rect x="23.7" y="466.9" width="1.1" height="1.1" fill="#b4b4b4"/><rect x="45.8" y="466.9" width="1.1" height="1.1" fill="#b4b4b4"/><rect x="67.8" y="466.9" width="1.1" height="1.1" fill="#b4b4b4"/><rect x="95.4" y="466.9" width="1.1" height="1.1" fill="#b4b4b4"/><rect x="117.5" y="466.9" width="1.1" height="1.1" fill="#b4b4b4"/><rect x="145.1" y="466.9" width="1.1" height="1.1" fill="#b4b4b4"/><rect x="167.2" y="466.9" width="1.1" height="1.1" fill="#b4b4b4"/><rect x="189.3" y="466.9" width="1.1" height="1.1" fill="#b4b4b4"/><rect x="216.9" y="466.9" width="1.1" height="1.1" fill="#b4b4b4"/><rect x="238.9" y="466.9" width="1.1" height="1.1" fill="#b4b4b4"/><rect x="261" y="466.9" width="1.1" height="1.1" fill="#b4b4b4"/><rect x="288.6" y="466.9" width="1.1" height="1.1" fill="#b4b4b4"/><rect x="310.7" y="466.9" width="1.1" height="1.1" fill="#b4b4b4"/><rect x="332.8" y="466.9" width="1.1" height="1.1" fill="#b4b4b4"/><rect x="360.4" y="466.9" width="1.1" height="1.1" fill="#b4b4b4"/><rect x="382.5" y="466.9" width="1.1" height="1.1" fill="#b4b4b4"/><rect x="404.5" y="466.9" width="1.1" height="1.1" fill="#b4b4b4"/><rect x="432.1" y="466.9" width="1.1" height="1.1" fill="#b4b4b4"/><rect x="454.2" y="466.9" width="1.1" height="1.1" fill="#b4b4b4"/><rect x="476.3" y="466.9" width="1.1" height="1.1" fill="#b4b4b4"/><rect x="503.9" y="466.9" width="1.1" height="1.1" fill="#b4b4b4"/><rect x="526" y="466.9" width="1.1" height="1.1" fill="#b4b4b4"/><rect x="548.1" y="466.9" width="1.1" height="1.1" fill="#b4b4b4"/><rect x="575.7" y="466.9" width="1.1" height="1.1" fill="#b4b4b4"/><rect x="597.7" y="466.9" width="1.1" height="1.1" fill="#b4b4b4"/><rect x="619.8" y="466.9" width="1.1" height="1.1" fill="#b4b4b4"/><rect x="647.4" y="466.9" width="1.1" height="1.1" fill="#b4b4b4"/><rect x="669.5" y="466.9" width="1.1" height="1.1" fill="#b4b4b4"/><rect x="697.1" y="466.9" width="1.1" height="1.1" fill="#b4b4b4"/><rect x="719.2" y="466.9" width="1.1" height="1.1" fill="#b4b4b4"/><rect x="741.3" y="466.9" width="1.1" height="1.1" fill="#b4b4b4"/><rect x="768.9" y="466.9" width="1.1" height="1.1" fill="#b4b4b4"/><rect x="790.9" y="466.9" width="1.1" height="1.1" fill="#b4b4b4"/><rect x="813" y="466.9" width="1.1" height="1.1" fill="#b4b4b4"/><line x1="7.7" y1="417.5" x2="814.5" y2="417.5" stroke="#b2b2b2" stroke-width="1.1" stroke-dasharray="1.1 4.4"/><line x1="7.7" y1="450.8" x2="814.5" y2="450.8" stroke="#b2b2b2" stroke-width="1.1" stroke-dasharray="1.1 4.4"/><line x1="7.7" y1="580.1" x2="814.5" y2="580.1" stroke="#b2b2b2" stroke-width="1.1" stroke-dasharray="1.1 4.4"/><line x1="7.7" y1="541.9" x2="814.5" y2="541.9" stroke="#b2b2b2" stroke-width="1.1" stroke-dasharray="1.1 4.4"/><line x1="7.7" y1="522.8" x2="814.5" y2="522.8" stroke="#b2b2b2" stroke-width="1.1" stroke-dasharray="1.1 4.4"/><line x1="7.7" y1="484.6" x2="814.5" y2="484.6" stroke="#b2b2b2" stroke-width="1.1" stroke-dasharray="1.1 4.4"/><rect x="23.7" y="570" width="1.1" height="1.1" fill="#b4b4b4"/><rect x="45.8" y="570" width="1.1" height="1.1" fill="#b4b4b4"/><rect x="67.8" y="570" width="1.1" height="1.1" fill="#b4b4b4"/><rect x="95.4" y="570" width="1.1" height="1.1" fill="#b4b4b4"/><rect x="117.5" y="570" width="1.1" height="1.1" fill="#b4b4b4"/><rect x="145.1" y="570" width="1.1" height="1.1" fill="#b4b4b4"/><rect x="167.2" y="570" width="1.1" height="1.1" fill="#b4b4b4"/><rect x="189.3" y="570" width="1.1" height="1.1" fill="#b4b4b4"/><rect x="216.9" y="570" width="1.1" height="1.1" fill="#b4b4b4"/><rect x="238.9" y="570" width="1.1" height="1.1" fill="#b4b4b4"/><rect x="261" y="570" width="1.1" height="1.1" fill="#b4b4b4"/><rect x="288.6" y="570" width="1.1" height="1.1" fill="#b4b4b4"/><rect x="310.7" y="570" width="1.1" height="1.1" fill="#b4b4b4"/><rect x="332.8" y="570" width="1.1" height="1.1" fill="#b4b4b4"/><rect x="360.4" y="570" width="1.1" height="1.1" fill="#b4b4b4"/><rect x="382.5" y="570" width="1.1" height="1.1" fill="#b4b4b4"/><rect x="404.5" y="570" width="1.1" height="1.1" fill="#b4b4b4"/><rect x="432.1" y="570" width="1.1" height="1.1" fill="#b4b4b4"/><rect x="454.2" y="570" width="1.1" height="1.1" fill="#b4b4b4"/><rect x="476.3" y="570" width="1.1" height="1.1" fill="#b4b4b4"/><rect x="503.9" y="570" width="1.1" height="1.1" fill="#b4b4b4"/><rect x="526" y="570" width="1.1" height="1.1" fill="#b4b4b4"/><rect x="548.1" y="570" width="1.1" height="1.1" fill="#b4b4b4"/><rect x="575.7" y="570" width="1.1" height="1.1" fill="#b4b4b4"/><rect x="597.7" y="570" width="1.1" height="1.1" fill="#b4b4b4"/><rect x="619.8" y="570" width="1.1" height="1.1" fill="#b4b4b4"/><rect x="647.4" y="570" width="1.1" height="1.1" fill="#b4b4b4"/><rect x="669.5" y="570" width="1.1" height="1.1" fill="#b4b4b4"/><rect x="697.1" y="570" width="1.1" height="1.1" fill="#b4b4b4"/><rect x="719.2" y="570" width="1.1" height="1.1" fill="#b4b4b4"/><rect x="741.3" y="570" width="1.1" height="1.1" fill="#b4b4b4"/><rect x="768.9" y="570" width="1.1" height="1.1" fill="#b4b4b4"/><rect x="790.9" y="570" width="1.1" height="1.1" fill="#b4b4b4"/><rect x="813" y="570" width="1.1" height="1.1" fill="#b4b4b4"/><rect x="23.7" y="550.9" width="1.1" height="1.1" fill="#b4b4b4"/><rect x="45.8" y="550.9" width="1.1" height="1.1" fill="#b4b4b4"/><rect x="67.8" y="550.9" width="1.1" height="1.1" fill="#b4b4b4"/><rect x="95.4" y="550.9" width="1.1" height="1.1" fill="#b4b4b4"/><rect x="117.5" y="550.9" width="1.1" height="1.1" fill="#b4b4b4"/><rect x="145.1" y="550.9" width="1.1" height="1.1" fill="#b4b4b4"/><rect x="167.2" y="550.9" width="1.1" height="1.1" fill="#b4b4b4"/><rect x="189.3" y="550.9" width="1.1" height="1.1" fill="#b4b4b4"/><rect x="216.9" y="550.9" width="1.1" height="1.1" fill="#b4b4b4"/><rect x="238.9" y="550.9" width="1.1" height="1.1" fill="#b4b4b4"/><rect x="261" y="550.9" width="1.1" height="1.1" fill="#b4b4b4"/><rect x="288.6" y="550.9" width="1.1" height="1.1" fill="#b4b4b4"/><rect x="310.7" y="550.9" width="1.1" height="1.1" fill="#b4b4b4"/><rect x="332.8" y="550.9" width="1.1" height="1.1" fill="#b4b4b4"/><rect x="360.4" y="550.9" width="1.1" height="1.1" fill="#b4b4b4"/><rect x="382.5" y="550.9" width="1.1" height="1.1" fill="#b4b4b4"/><rect x="404.5" y="550.9" width="1.1" height="1.1" fill="#b4b4b4"/><rect x="432.1" y="550.9" width="1.1" height="1.1" fill="#b4b4b4"/><rect x="454.2" y="550.9" width="1.1" height="1.1" fill="#b4b4b4"/><rect x="476.3" y="550.9" width="1.1" height="1.1" fill="#b4b4b4"/><rect x="503.9" y="550.9" width="1.1" height="1.1" fill="#b4b4b4"/><rect x="526" y="550.9" width="1.1" height="1.1" fill="#b4b4b4"/><rect x="548.1" y="550.9" width="1.1" height="1.1" fill="#b4b4b4"/><rect x="575.7" y="550.9" width="1.1" height="1.1" fill="#b4b4b4"/><rect x="597.7" y="550.9" width="1.1" height="1.1" fill="#b4b4b4"/><rect x="619.8" y="550.9" width="1.1" height="1.1" fill="#b4b4b4"/><rect x="647.4" y="550.9" width="1.1" height="1.1" fill="#b4b4b4"/><rect x="669.5" y="550.9" width="1.1" height="1.1" fill="#b4b4b4"/><rect x="697.1" y="550.9" width="1.1" height="1.1" fill="#b4b4b4"/><rect x="719.2" y="550.9" width="1.1" height="1.1" fill="#b4b4b4"/><rect x="741.3" y="550.9" width="1.1" height="1.1" fill="#b4b4b4"/><rect x="768.9" y="550.9" width="1.1" height="1.1" fill="#b4b4b4"/><rect x="790.9" y="550.9" width="1.1" height="1.1" fill="#b4b4b4"/><rect x="813" y="550.9" width="1.1" height="1.1" fill="#b4b4b4"/><rect x="23.7" y="512.7" width="1.1" height="1.1" fill="#b4b4b4"/><rect x="45.8" y="512.7" width="1.1" height="1.1" fill="#b4b4b4"/><rect x="67.8" y="512.7" width="1.1" height="1.1" fill="#b4b4b4"/><rect x="95.4" y="512.7" width="1.1" height="1.1" fill="#b4b4b4"/><rect x="117.5" y="512.7" width="1.1" height="1.1" fill="#b4b4b4"/><rect x="145.1" y="512.7" width="1.1" height="1.1" fill="#b4b4b4"/><rect x="167.2" y="512.7" width="1.1" height="1.1" fill="#b4b4b4"/><rect x="189.3" y="512.7" width="1.1" height="1.1" fill="#b4b4b4"/><rect x="216.9" y="512.7" width="1.1" height="1.1" fill="#b4b4b4"/><rect x="238.9" y="512.7" width="1.1" height="1.1" fill="#b4b4b4"/><rect x="261" y="512.7" width="1.1" height="1.1" fill="#b4b4b4"/><rect x="288.6" y="512.7" width="1.1" height="1.1" fill="#b4b4b4"/><rect x="310.7" y="512.7" width="1.1" height="1.1" fill="#b4b4b4"/><rect x="332.8" y="512.7" width="1.1" height="1.1" fill="#b4b4b4"/><rect x="360.4" y="512.7" width="1.1" height="1.1" fill="#b4b4b4"/><rect x="382.5" y="512.7" width="1.1" height="1.1" fill="#b4b4b4"/><rect x="404.5" y="512.7" width="1.1" height="1.1" fill="#b4b4b4"/><rect x="432.1" y="512.7" width="1.1" height="1.1" fill="#b4b4b4"/><rect x="454.2" y="512.7" width="1.1" height="1.1" fill="#b4b4b4"/><rect x="476.3" y="512.7" width="1.1" height="1.1" fill="#b4b4b4"/><rect x="503.9" y="512.7" width="1.1" height="1.1" fill="#b4b4b4"/><rect x="526" y="512.7" width="1.1" height="1.1" fill="#b4b4b4"/><rect x="548.1" y="512.7" width="1.1" height="1.1" fill="#b4b4b4"/><rect x="575.7" y="512.7" width="1.1" height="1.1" fill="#b4b4b4"/><rect x="597.7" y="512.7" width="1.1" height="1.1" fill="#b4b4b4"/><rect x="619.8" y="512.7" width="1.1" height="1.1" fill="#b4b4b4"/><rect x="647.4" y="512.7" width="1.1" height="1.1" fill="#b4b4b4"/><rect x="669.5" y="512.7" width="1.1" height="1.1" fill="#b4b4b4"/><rect x="697.1" y="512.7" width="1.1" height="1.1" fill="#b4b4b4"/><rect x="719.2" y="512.7" width="1.1" height="1.1" fill="#b4b4b4"/><rect x="741.3" y="512.7" width="1.1" height="1.1" fill="#b4b4b4"/><rect x="768.9" y="512.7" width="1.1" height="1.1" fill="#b4b4b4"/><rect x="790.9" y="512.7" width="1.1" height="1.1" fill="#b4b4b4"/><rect x="813" y="512.7" width="1.1" height="1.1" fill="#b4b4b4"/><rect x="23.7" y="493.6" width="1.1" height="1.1" fill="#b4b4b4"/><rect x="45.8" y="493.6" width="1.1" height="1.1" fill="#b4b4b4"/><rect x="67.8" y="493.6" width="1.1" height="1.1" fill="#b4b4b4"/><rect x="95.4" y="493.6" width="1.1" height="1.1" fill="#b4b4b4"/><rect x="117.5" y="493.6" width="1.1" height="1.1" fill="#b4b4b4"/><rect x="145.1" y="493.6" width="1.1" height="1.1" fill="#b4b4b4"/><rect x="167.2" y="493.6" width="1.1" height="1.1" fill="#b4b4b4"/><rect x="189.3" y="493.6" width="1.1" height="1.1" fill="#b4b4b4"/><rect x="216.9" y="493.6" width="1.1" height="1.1" fill="#b4b4b4"/><rect x="238.9" y="493.6" width="1.1" height="1.1" fill="#b4b4b4"/><rect x="261" y="493.6" width="1.1" height="1.1" fill="#b4b4b4"/><rect x="288.6" y="493.6" width="1.1" height="1.1" fill="#b4b4b4"/><rect x="310.7" y="493.6" width="1.1" height="1.1" fill="#b4b4b4"/><rect x="332.8" y="493.6" width="1.1" height="1.1" fill="#b4b4b4"/><rect x="360.4" y="493.6" width="1.1" height="1.1" fill="#b4b4b4"/><rect x="382.5" y="493.6" width="1.1" height="1.1" fill="#b4b4b4"/><rect x="404.5" y="493.6" width="1.1" height="1.1" fill="#b4b4b4"/><rect x="432.1" y="493.6" width="1.1" height="1.1" fill="#b4b4b4"/><rect x="454.2" y="493.6" width="1.1" height="1.1" fill="#b4b4b4"/><rect x="476.3" y="493.6" width="1.1" height="1.1" fill="#b4b4b4"/><rect x="503.9" y="493.6" width="1.1" height="1.1" fill="#b4b4b4"/><rect x="526" y="493.6" width="1.1" height="1.1" fill="#b4b4b4"/><rect x="548.1" y="493.6" width="1.1" height="1.1" fill="#b4b4b4"/><rect x="575.7" y="493.6" width="1.1" height="1.1" fill="#b4b4b4"/><rect x="597.7" y="493.6" width="1.1" height="1.1" fill="#b4b4b4"/><rect x="619.8" y="493.6" width="1.1" height="1.1" fill="#b4b4b4"/><rect x="647.4" y="493.6" width="1.1" height="1.1" fill="#b4b4b4"/><rect x="669.5" y="493.6" width="1.1" height="1.1" fill="#b4b4b4"/><rect x="697.1" y="493.6" width="1.1" height="1.1" fill="#b4b4b4"/><rect x="719.2" y="493.6" width="1.1" height="1.1" fill="#b4b4b4"/><rect x="741.3" y="493.6" width="1.1" height="1.1" fill="#b4b4b4"/><rect x="768.9" y="493.6" width="1.1" height="1.1" fill="#b4b4b4"/><rect x="790.9" y="493.6" width="1.1" height="1.1" fill="#b4b4b4"/><rect x="813" y="493.6" width="1.1" height="1.1" fill="#b4b4b4"/><line x1="7.7" y1="350.3" x2="814.5" y2="350.3" stroke="#b2b2b2" stroke-width="1.1" stroke-dasharray="1.1 4.4"/><rect x="23.7" y="366.9" width="1.1" height="1.1" fill="#b4b4b4"/><rect x="45.8" y="366.9" width="1.1" height="1.1" fill="#b4b4b4"/><rect x="67.8" y="366.9" width="1.1" height="1.1" fill="#b4b4b4"/><rect x="95.4" y="366.9" width="1.1" height="1.1" fill="#b4b4b4"/><rect x="117.5" y="366.9" width="1.1" height="1.1" fill="#b4b4b4"/><rect x="145.1" y="366.9" width="1.1" height="1.1" fill="#b4b4b4"/><rect x="167.2" y="366.9" width="1.1" height="1.1" fill="#b4b4b4"/><rect x="189.3" y="366.9" width="1.1" height="1.1" fill="#b4b4b4"/><rect x="216.9" y="366.9" width="1.1" height="1.1" fill="#b4b4b4"/><rect x="238.9" y="366.9" width="1.1" height="1.1" fill="#b4b4b4"/><rect x="261" y="366.9" width="1.1" height="1.1" fill="#b4b4b4"/><rect x="288.6" y="366.9" width="1.1" height="1.1" fill="#b4b4b4"/><rect x="310.7" y="366.9" width="1.1" height="1.1" fill="#b4b4b4"/><rect x="332.8" y="366.9" width="1.1" height="1.1" fill="#b4b4b4"/><rect x="360.4" y="366.9" width="1.1" height="1.1" fill="#b4b4b4"/><rect x="382.5" y="366.9" width="1.1" height="1.1" fill="#b4b4b4"/><rect x="404.5" y="366.9" width="1.1" height="1.1" fill="#b4b4b4"/><rect x="432.1" y="366.9" width="1.1" height="1.1" fill="#b4b4b4"/><rect x="454.2" y="366.9" width="1.1" height="1.1" fill="#b4b4b4"/><rect x="476.3" y="366.9" width="1.1" height="1.1" fill="#b4b4b4"/><rect x="503.9" y="366.9" width="1.1" height="1.1" fill="#b4b4b4"/><rect x="526" y="366.9" width="1.1" height="1.1" fill="#b4b4b4"/><rect x="548.1" y="366.9" width="1.1" height="1.1" fill="#b4b4b4"/><rect x="575.7" y="366.9" width="1.1" height="1.1" fill="#b4b4b4"/><rect x="597.7" y="366.9" width="1.1" height="1.1" fill="#b4b4b4"/><rect x="619.8" y="366.9" width="1.1" height="1.1" fill="#b4b4b4"/><rect x="647.4" y="366.9" width="1.1" height="1.1" fill="#b4b4b4"/><rect x="669.5" y="366.9" width="1.1" height="1.1" fill="#b4b4b4"/><rect x="697.1" y="366.9" width="1.1" height="1.1" fill="#b4b4b4"/><rect x="719.2" y="366.9" width="1.1" height="1.1" fill="#b4b4b4"/><rect x="741.3" y="366.9" width="1.1" height="1.1" fill="#b4b4b4"/><rect x="768.9" y="366.9" width="1.1" height="1.1" fill="#b4b4b4"/><rect x="790.9" y="366.9" width="1.1" height="1.1" fill="#b4b4b4"/><rect x="813" y="366.9" width="1.1" height="1.1" fill="#b4b4b4"/></g>
<line x1="653.8" y1="32" x2="653.8" y2="587" stroke="#a8a8a8" stroke-width="1.6" />
<line x1="814.5" y1="32" x2="814.5" y2="587" stroke="#787c84" stroke-width="1.2" />
<path d="M811.5,328.4H814.5M812.7,312.2H814.5M811.5,295.9H814.5M812.7,279.8H814.5M811.5,263.4H814.5M812.7,247.2H814.5M811.5,231H814.5M812.7,214.8H814.5M811.5,198.6H814.5M812.7,182.4H814.5M811.5,166.3H814.5M812.7,150.2H814.5M811.5,133.8H814.5M812.7,117.7H814.5M811.5,101.5H814.5M812.7,85.3H814.5M811.5,69.5H814.5M812.7,53.4H814.5M811.5,37.2H814.5M811.5,417.5H814.5M811.5,450.8H814.5M812.7,400.8H814.5M812.7,434.1H814.5M812.7,467.5H814.5M811.5,580.1H814.5M811.5,561H814.5M811.5,541.9H814.5M811.5,522.8H814.5M811.5,503.7H814.5M811.5,484.6H814.5" stroke="#787c84" stroke-width="1" fill="none"/>
<line x1="9" y1="347.8" x2="850" y2="347.8" stroke="#343434" stroke-width="1.6" />
<line x1="9" y1="476" x2="850" y2="476" stroke="#8a8a8a" stroke-width="1.9" />
<line x1="9" y1="587.3" x2="850" y2="587.3" stroke="#000" stroke-width="1.5" />
<path d="M13,114C17.5,112.8 31.7,109.2 40,106.5C48.3,103.8 54.7,100.2 62.7,97.7C70.7,95.2 79.4,93.2 87.8,91.5C96.2,89.8 104.6,89.2 113,87.7C121.4,86.2 129.7,84.2 138,82.7C146.3,81.2 154.7,79.4 163,78.4C171.3,77.5 179.2,77.4 188,77C196.8,76.6 205.1,75.7 216,76C226.9,76.3 241.1,77.5 253.6,79C266.1,80.5 279.7,83.3 291,85C302.3,86.7 313,87.7 321.4,89C329.8,90.3 334,91 341.5,92.7C349,94.4 358.1,97 366.5,99C374.9,101 384.1,102.9 391.6,104.8C399.1,106.7 405,107.7 411.7,110.3C418.4,112.9 424.9,116.1 432,120.3C439.1,124.5 448.8,131.2 454.6,135.4C460.4,139.6 460.8,141 467,145.4C473.2,149.8 481.5,155.6 492,161.7C502.5,167.8 519.7,175.9 529.8,182C539.9,188.1 544.4,192.9 552.4,198.3C560.4,203.7 569.1,209.2 577.5,214.6C585.9,220 594.2,226.1 602.6,230.9C611,235.7 620.6,240.6 627.7,243.5C634.8,246.4 638.8,246.6 645,248.5C651.2,250.4 658.7,252.9 665,254.8C671.3,256.7 677.6,258.4 682.6,259.8C687.6,261.2 690.8,262.8 695,263.5C699.2,264.2 703.5,264.4 707.7,264.3C711.9,264.2 716.1,263.5 720.3,262.8C724.5,262.1 728.6,261.2 732.8,260.3C737,259.4 741.2,258.4 745.4,257.3C749.6,256.2 754.1,254.7 757.9,253.5C761.7,252.3 765.1,250.8 768,250.2C770.9,249.6 774.2,249.8 775.5,249.7" fill="none" stroke="#1010ff" stroke-width="1.85" stroke-linejoin="round" />
<path d="M13,89C15,87.5 19.7,83.7 25,80C30.3,76.3 39.2,69.7 45,67C50.8,64.3 54.2,64.9 60,64C65.8,63.1 75,60.8 80,61.4C85,62 86.7,65.7 90,67.6C93.3,69.5 96.7,71.4 100,72.6C103.3,73.8 106.7,73.2 110,74.7C113.3,76.2 117,80.5 120,81.4C123,82.3 125.4,81.1 128,80C130.6,78.9 132.6,77.1 135.5,75C138.4,72.9 142.2,69.4 145.5,67.6C148.8,65.8 152.2,65 155.5,64C158.8,63 162.2,61.2 165.6,61.4C168.9,61.6 172.3,63.3 175.6,65C178.9,66.7 182.2,69.7 185.6,71.4C188.9,73.1 192.3,74 195.7,75C199,76 202.3,76.6 205.7,77.7C209.1,78.8 212.6,79.4 216,81.4C219.4,83.5 222.7,87.1 226,90C229.3,92.9 232.7,95.7 236,99C239.3,102.3 242.7,106.9 246,110C249.3,113.1 252.7,115.8 256,117.8C259.3,119.8 262.2,120.8 266,122C269.8,123.2 274.5,124.3 278.7,124.8C282.9,125.3 287.5,125.5 291.3,124.8C295.1,124 298,122.3 301.3,120.3C304.6,118.3 308,115 311.3,112.8C314.6,110.6 318,108.7 321.4,107.3C324.8,105.9 328.1,104.8 331.4,104.5C334.7,104.2 338,103.9 341.4,105.3C344.8,106.7 348.1,109.7 351.5,112.8C354.9,115.9 358.2,120.2 361.5,124C364.8,127.8 368.6,132.5 371.5,135.4C374.4,138.3 375.6,140.3 379,141.6C382.4,142.9 387,143.2 391.6,143.4C396.2,143.6 402.5,142.8 406.7,142.9C410.9,143 413.8,143.2 416.7,144C419.6,144.8 421.9,145.2 424,148C426.1,150.8 427.7,157.4 429,160.5C430.3,163.6 430.4,163.1 432,166.7C433.6,170.3 435.8,175.7 438.3,182C440.8,188.3 443.9,196.7 447,204.6C450.1,212.5 454.1,221.8 457,229.7C459.9,237.6 462.5,246.8 464.6,252C466.7,257.2 467.5,258.7 469.6,261C471.7,263.3 474.1,264.7 477,266C479.9,267.3 483.6,267.8 487,268.6C490.4,269.4 493.9,271 497.2,271C500.5,271 503.6,268.6 507,268.6C510.4,268.6 513.9,270.2 517.3,271C520.7,271.8 523.9,272.1 527.3,273.6C530.6,275.1 534.5,277.1 537.4,279.8C540.3,282.5 542.4,286.8 544.9,289.9C547.4,293 549.5,296.5 552.4,298.7C555.3,300.9 559.1,302.1 562.5,303C565.9,303.9 569.2,304.7 572.5,304.2C575.8,303.7 579.1,302.7 582.5,299.9C585.9,297.1 589.2,291.4 592.6,287.4C596,283.4 599.3,278.9 602.6,276C605.9,273.1 609.2,271.9 612.6,269.8C616,267.7 619.4,265.2 622.7,263.5C626.1,261.8 629,260.4 632.7,259.8C636.4,259.2 641.3,260.2 645,259.8C648.7,259.4 651.7,258.4 655,257.3C658.3,256.2 661.7,255.2 665,253.5C668.3,251.8 671.7,249.6 675,247.2C678.3,244.8 682.5,241.1 685,238.8C687.5,236.6 687.9,236 690,233.7C692.1,231.4 694.7,227.2 697.8,225C700.9,222.8 704.9,222 708.8,220.6C712.7,219.2 717.4,217.9 721.3,216.6C725.2,215.3 728.6,213.6 732.3,212.8C736,212 739.9,212.4 743.3,211.7C746.7,211 750.1,209.6 752.7,208.6C755.3,207.6 756.4,206.2 759,205.5C761.6,204.8 765.7,205 768.4,204.7C771.1,204.4 774.2,204 775.4,203.9" fill="none" stroke="#ff20ff" stroke-width="1.8" stroke-linejoin="round" />
<path d="M18.4,65.7V77.6M16.1,66.3H18.4M18.4,66.3H20.7M23.9,64.5V72.6M21.6,66.3H23.9M23.9,65.1H26.2M29.4,62.6V70.7M27.1,65.1H29.4M29.4,63.2H31.7M35,58.8V68.2M32.7,63.2H35M35,63H37.3M40.5,56V67M38.2,63H40.5M40.5,56.6H42.8M46,56V73.9M43.7,56.6H46M46,66.4H48.3M51.5,56.3V72M49.2,66.4H51.5M51.5,57.1H53.8M57,57.6V70M54.7,58.2H57M57,67.9H59.3M62.6,63.2V75M60.3,67.9H62.6M62.6,67.4H64.9M68.1,58.8V68.2M65.8,67.4H68.1M68.1,59.4H70.4M73.6,51.3V68.6M71.3,59.4H73.6M73.6,51.9H75.9M79.1,50.4V60.7M76.8,51.9H79.1M79.1,57.4H81.4M84.6,54.4V82.6M82.3,57.4H84.6M84.6,81.5H86.9M90.2,72.6V91.4M87.9,81.5H90.2M90.2,83.9H92.5M95.7,68.9V92.7M93.4,83.9H95.7M95.7,83.2H98M101.2,80.8V111.5M98.9,83.2H101.2M101.2,86.3H103.5M106.7,75.7V92.7M104.4,86.3H106.7M106.7,76.9H109M112.2,76.4V92M109.9,77H112.2M112.2,77.6H114.5M117.8,70.7V85.8M115.5,77.6H117.8M117.8,82.8H120.1M123.3,72V89.5M121,82.8H123.3M123.3,73.2H125.6M128.8,56.3V78.9M126.5,73.2H128.8M128.8,60.4H131.1M134.3,58.2V68.9M132,60.4H134.3M134.3,60.6H136.6M139.8,49.4V61.3M137.5,60.6H139.8M139.8,50H142.1M145.4,45V55M143.1,50H145.4M145.4,48.5H147.7M150.9,48.2V69.5M148.6,48.8H150.9M150.9,67.2H153.2M156.4,58.2V72.6M154.1,67.2H156.4M156.4,59.4H158.7M161.9,52.5V72M159.6,59.4H161.9M161.9,65.2H164.2M167.4,63.2V86.4M165.1,65.2H167.4M167.4,83.4H169.7M173,71.4V90.2M170.7,83.4H173M173,82.3H175.3M178.5,82.6V97.7M176.2,83.2H178.5M178.5,88.2H180.8M184,73.9V100.2M181.7,88.2H184M184,75.5H186.3M189.5,65.7V82.6M187.2,75.5H189.5M189.5,66.5H191.8M195,62.6V80.1M192.7,66.5H195M195,79.2H197.3M200.6,73.2V91.4M198.3,79.2H200.6M200.6,74.8H202.9M206.1,70V78.9M203.8,74.8H206.1M206.1,77.1H208.4M211.6,77V99M209.3,77.6H211.6M211.6,96.8H213.9M217.1,92V109.6M214.8,96.8H217.1M217.1,100.8H219.4M222.6,95.7V130.2M220.3,100.8H222.6M222.6,126.4H224.9M228.2,110.8V145.3M225.9,126.4H228.2M228.2,123.2H230.5M233.7,103.2V127.7M231.4,123.2H233.7M233.7,103.9H236M239.2,103.2V129M236.9,103.9H239.2M239.2,123.6H241.5M244.7,112.6V127.7M242.4,123.6H244.7M244.7,117.9H247M250.2,110.8V125.8M247.9,117.9H250.2M250.2,114.7H252.5M255.8,105.7V125.8M253.5,114.7H255.8M255.8,122.8H258.1M261.3,119.5V140.2M259,122.8H261.3M261.3,135.6H263.6M266.8,122.7V144M264.5,135.6H266.8M266.8,138.2H269.1M272.3,120.2V147M270,138.2H272.3M272.3,124.5H274.6M277.8,115.2V130.2M275.5,124.5H277.8M277.8,128.7H280.1M283.4,107.6V130.8M281.1,128.7H283.4M283.4,109.9H285.7M288.9,106.4V125.2M286.6,109.9H288.9M288.9,123.3H291.2M294.4,103.2V125.8M292.1,123.3H294.4M294.4,103.9H296.7M299.9,102V112.6M297.6,103.9H299.9M299.9,102.8H302.2M305.4,94.5V107.6M303.1,102.8H305.4M305.4,95.3H307.7M311,94.5V107.6M308.7,95.3H311M311,105H313.3M316.5,93.2V107.6M314.2,105H316.5M316.5,94.1H318.8M322,86.9V110.7M319.7,94.1H322M322,109H324.3M327.5,100V110.7M325.2,109H327.5M327.5,100.7H329.8M333,100V115.7M330.7,100.7H333M333,113.3H335.3M338.6,110V124.5M336.3,113.3H338.6M338.6,113.2H340.9M344.1,112V130.2M341.8,113.2H344.1M344.1,127.1H346.4M349.6,122.6V144M347.3,127.1H349.6M349.6,140.8H351.9M355.1,135.8V151M352.8,140.8H355.1M355.1,145.4H357.4M360.6,141.4V158.9M358.3,145.4H360.6M360.6,153.3H362.9M366.2,145.5V167M363.9,153.3H366.2M366.2,147H368.5M371.7,136.5V151.4M369.4,147H371.7M371.7,148.3H374M377.2,138.5V155.7M374.9,148.3H377.2M377.2,148H379.5M382.7,134V152M380.4,148H382.7M382.7,134.9H385M388.2,129.5V142.6M385.9,134.9H388.2M388.2,134.7H390.5M393.8,133.2V147.6M391.5,134.7H393.8M393.8,135.6H396.1M399.3,133.5V146.4M397,135.6H399.3M399.3,139.9H401.6M404.8,133V162M402.5,139.9H404.8M404.8,151.8H407.1M410.3,142V163.9M408,151.8H410.3M410.3,149H412.6M415.8,144V189M413.5,149H415.8M415.8,146.2H418.1M421.4,148.8V174M419.1,149.4H421.4M421.4,162.2H423.7M426.9,163.9V199.4M424.6,164.5H426.9M426.9,198.3H429.2M432.4,199.4V283.3M430.1,200H432.4M432.4,263.2H434.7M437.9,217V275M435.6,263.2H437.9M437.9,250.1H440.2M443.4,235.8V280M441.1,250.1H443.4M443.4,271.2H445.7M449,236.4V282.4M446.7,271.2H449M449,240.5H451.3M454.5,228.3V263.8M452.2,240.5H454.5M454.5,253.2H456.8M460,246.9V290.8M457.7,253.2H460M460,271H462.3M465.5,269.5V315.9M463.2,271H465.5M465.5,295H467.8M471,265V295.8M468.7,295H471M471,265.9H473.3M476.6,267.6V291.4M474.3,268.2H476.6M476.6,271.4H478.9M482.1,258.2V280M479.8,271.4H482.1M482.1,266.9H484.4M487.6,258.2V277.9M485.3,266.9H487.6M487.6,266.5H489.9M493.1,268.2V277.6M490.8,268.8H493.1M493.1,271.3H495.4M498.6,252.5V278.9M496.3,271.3H498.6M498.6,253.1H500.9M504.2,249.4V267.6M501.9,253.1H504.2M504.2,266.7H506.5M509.7,267V291M507.4,267.6H509.7M509.7,280.2H512M515.2,280V295.3M512.9,280.6H515.2M515.2,285.4H517.5M520.7,270.6V288.8M518.4,285.4H520.7M520.7,287H523M526.2,273V292.5M523.9,287H526.2M526.2,274H528.5M531.8,271.8V293.7M529.5,274H531.8M531.8,286.7H534.1M537.3,290V311.3M535,290.6H537.3M537.3,304.9H539.6M542.8,302.5V318.2M540.5,304.9H542.8M542.8,317.4H545.1M548.3,318.8V340M546,319.4H548.3M548.3,332.2H550.6M553.8,308.8V338.9M551.5,332.2H553.8M553.8,309.7H556.1M559.4,294.3V312M557.1,309.7H559.4M559.4,303.1H561.7M564.9,286.2V305.6M562.6,303.1H564.9M564.9,290.1H567.2M570.4,281.2V304.4M568.1,290.1H570.4M570.4,282.1H572.7M575.9,277.4V291.2M573.6,282.1H575.9M575.9,278.2H578.2M581.4,272.4V285.6M579.1,278.2H581.4M581.4,277.7H583.7M587,273V288.7M584.7,277.7H587M587,273.8H589.3M592.5,267V281.3M590.2,273.8H592.5M592.5,270.1H594.8M598,253.3V270.8M595.7,270.1H598M598,254.9H600.3M603.5,255.8V270.8M601.2,256.4H603.5M603.5,268.6H605.8M609,255V270.2M606.7,268.6H609M609,267.2H611.3M614.6,257V270.2M612.3,267.2H614.6M614.6,257.8H616.9M620.1,243.2V256.4M617.8,255.8H620.1M620.1,244.8H622.4M625.6,245V255M623.3,245.6H625.6M625.6,250H627.9M631.1,250V262.7M628.8,250.6H631.1M631.1,258H633.4M636.6,256.4V267.7M634.3,258H636.6M636.6,258.7H638.9M642.2,252.6V265.2M639.9,258.7H642.2M642.2,263.7H644.5M647.7,263.3V274M645.4,263.9H647.7M647.7,268.6H650M653.2,250V271.4M650.9,268.6H653.2M653.2,250.9H655.5M658.7,237V252M656.4,250.9H658.7M658.7,237.8H661M664.2,232.6V242M661.9,237.8H664.2M664.2,234.2H666.5M669.8,225.7V235M667.5,234.2H669.8M669.8,228H672.1M675.3,227V234.4M673,228H675.3M675.3,228.6H677.6M680.8,223V238.8M678.5,228.6H680.8M680.8,223.8H683.1M686.3,218V227M684,223.8H686.3M686.3,223.2H688.6M691.8,222.3V234.2M689.5,223.2H691.8M691.8,223.8H694.1M697.4,216.4V225.4M695.1,223.8H697.4M697.4,217.1H699.7M702.9,208.3V220.2M700.6,217.1H702.9M702.9,209H705.2M708.4,206.4V218.3M706.1,209H708.4M708.4,216.5H710.7M713.9,208.9V225.2M711.6,216.5H713.9M713.9,215.4H716.2M719.4,207.6V224M717.1,215.4H719.4M719.4,208.2H721.7M725,200V210M722.7,208.2H725M725,201H727.3M730.5,198.2V207.6M728.2,201H730.5M730.5,206H732.8M736,202V221.4M733.7,206H736M736,219.1H738.3M741.5,207.6V220.8M739.2,219.1H741.5M741.5,208.4H743.8M747,197V208.3M744.7,207.7H747M747,201.1H749.3M752.6,194.5V203.9M750.3,201.1H752.6M752.6,197.6H754.9M758.1,195.7V204.5M755.8,197.6H758.1M758.1,197.9H760.4M763.6,192V203.2M761.3,197.9H763.6M763.6,197.6H765.9M769.1,194.5V204.5M766.8,197.6H769.1M769.1,197.8H771.4M774.6,193.8V203.2M772.3,197.8H774.6M774.6,197.2H776.9" stroke="#000" stroke-width="1.7" fill="none"/>
<line x1="13.8" y1="94.5" x2="690" y2="260.2" stroke="#8a1515" stroke-width="1" stroke-dasharray="14.4 5.18" stroke-dashoffset="1.27"/><line x1="80.3" y1="52.6" x2="588" y2="329" stroke="#8c2222" stroke-width="0.8" /><line x1="146.8" y1="46.3" x2="610" y2="296.5" stroke="#8c2222" stroke-width="0.8" /><line x1="8.8" y1="128.6" x2="355" y2="82.7" stroke="#000" stroke-width="0.8" /><line x1="101.6" y1="111.5" x2="148" y2="67.6" stroke="#000" stroke-width="0.8" /><line x1="405.4" y1="126.6" x2="571.5" y2="312" stroke="#222" stroke-width="0.8" /><line x1="465.9" y1="313.7" x2="507.3" y2="268.5" stroke="#000" stroke-width="0.8" /><line x1="554.2" y1="337.6" x2="643" y2="231" stroke="#222" stroke-width="0.8" /><line x1="101.6" y1="34.5" x2="803" y2="207.5" stroke="#8a1515" stroke-width="1.9" /><line x1="261.7" y1="55" x2="660" y2="274.5" stroke="#8a1515" stroke-width="1.9" /><line x1="8.8" y1="220.3" x2="540" y2="345.2" stroke="#8a1515" stroke-width="1.9" /><line x1="91.6" y1="106.5" x2="526" y2="344" stroke="#8a1515" stroke-width="1.9" /><line x1="577" y1="293" x2="798" y2="199" stroke="#1a8a1a" stroke-width="0.9" stroke-dasharray="13 7.2"/><line x1="555.2" y1="315.7" x2="814.6" y2="206.3" stroke="#0a8a0a" stroke-width="1.15" stroke-dasharray="13.5 6.7"/><line x1="548.7" y1="277.8" x2="765.3" y2="178.8" stroke="#000" stroke-width="1.9" /><line x1="554.2" y1="337.6" x2="814" y2="177" stroke="#000" stroke-width="1.9" /><line x1="554.2" y1="337.6" x2="814.6" y2="229.7" stroke="#000" stroke-width="1.9" /><line x1="499.2" y1="249.4" x2="617.6" y2="249.4" stroke="#ff2020" stroke-width="2" /><line x1="709" y1="225" x2="770" y2="225" stroke="#ff3030" stroke-width="1.5" /><line x1="769" y1="187.8" x2="798.5" y2="187.8" stroke="#ff10ff" stroke-width="2.6" />
<line x1="9" y1="359.2" x2="814.5" y2="359.2" stroke="#b0b0b0" stroke-width="1.1" />
<line x1="9" y1="384.2" x2="814.5" y2="384.2" stroke="#404040" stroke-width="1.1" />
<rect x="17" y="380.7" width="2" height="3.5" fill="#0a8a0a"/><rect x="22.8" y="380.2" width="2" height="4" fill="#0a8a0a"/><rect x="28.4" y="380.2" width="2" height="4" fill="#0a8a0a"/><rect x="34" y="380" width="2" height="4.2" fill="#0a8a0a"/><rect x="39.6" y="379.7" width="2" height="4.5" fill="#0a8a0a"/><rect x="45.4" y="380.2" width="2" height="4" fill="#0a8a0a"/><rect x="51" y="380.7" width="2" height="3.5" fill="#0a8a0a"/><rect x="56.7" y="382.7" width="2" height="1.5" fill="#0a8a0a"/><rect x="72.7" y="383.2" width="2" height="1" fill="#0a8a0a"/><rect x="83.8" y="384.2" width="2" height="3.8" fill="#ff2020"/><rect x="89.3" y="384.2" width="2" height="7.5" fill="#ff2020"/><rect x="94.8" y="384.2" width="2" height="8" fill="#ff2020"/><rect x="100.6" y="384.2" width="2" height="8.8" fill="#ff2020"/><rect x="106" y="384.2" width="2" height="7.5" fill="#ff2020"/><rect x="111.6" y="384.2" width="2" height="7" fill="#ff2020"/><rect x="117" y="384.2" width="2" height="6.3" fill="#ff2020"/><rect x="122.7" y="384.2" width="2" height="5" fill="#ff2020"/><rect x="128" y="384.2" width="2" height="2.5" fill="#ff2020"/><rect x="139.5" y="381.2" width="2" height="3" fill="#0a8a0a"/><rect x="144.5" y="379.7" width="2" height="4.5" fill="#0a8a0a"/><rect x="150" y="382.2" width="2" height="2" fill="#0a8a0a"/><rect x="155.8" y="381.7" width="2" height="2.5" fill="#0a8a0a"/><rect x="161.6" y="382.9" width="2" height="1.3" fill="#0a8a0a"/><rect x="166.6" y="384.2" width="2" height="2.5" fill="#ff2020"/><rect x="172" y="384.2" width="2" height="4" fill="#ff2020"/><rect x="177.6" y="384.2" width="2" height="6.3" fill="#ff2020"/><rect x="183.4" y="384.2" width="2" height="5" fill="#ff2020"/><rect x="189" y="384.2" width="2" height="3.8" fill="#ff2020"/><rect x="194.4" y="384.2" width="2" height="3.8" fill="#ff2020"/><rect x="199.7" y="384.2" width="2" height="3.3" fill="#ff2020"/><rect x="205" y="384.2" width="2" height="3" fill="#ff2020"/><rect x="211" y="384.2" width="2" height="5" fill="#ff2020"/><rect x="216.3" y="384.2" width="2" height="6.3" fill="#ff2020"/><rect x="221.8" y="384.2" width="2" height="10" fill="#ff2020"/><rect x="227.3" y="384.2" width="2" height="13" fill="#ff2020"/><rect x="232.8" y="384.2" width="2" height="10" fill="#ff2020"/><rect x="238.3" y="384.2" width="2" height="10.5" fill="#ff2020"/><rect x="243.8" y="384.2" width="2" height="8.8" fill="#ff2020"/><rect x="249.4" y="384.2" width="2" height="8" fill="#ff2020"/><rect x="254.9" y="384.2" width="2" height="7.5" fill="#ff2020"/><rect x="260.6" y="384.2" width="2" height="8" fill="#ff2020"/><rect x="266.2" y="384.2" width="2" height="8" fill="#ff2020"/><rect x="271.7" y="384.2" width="2" height="5" fill="#ff2020"/><rect x="277.2" y="384.2" width="2" height="3" fill="#ff2020"/><rect x="288.3" y="382.9" width="2" height="1.3" fill="#0a8a0a"/><rect x="293.3" y="379.9" width="2" height="4.3" fill="#0a8a0a"/><rect x="299" y="377.4" width="2" height="6.8" fill="#0a8a0a"/><rect x="304.6" y="376.2" width="2" height="8" fill="#0a8a0a"/><rect x="310" y="376.2" width="2" height="8" fill="#0a8a0a"/><rect x="315.6" y="374.7" width="2" height="9.5" fill="#0a8a0a"/><rect x="321" y="375.7" width="2" height="8.5" fill="#0a8a0a"/><rect x="326.6" y="376.2" width="2" height="8" fill="#0a8a0a"/><rect x="332" y="377.9" width="2" height="6.3" fill="#0a8a0a"/><rect x="337.7" y="379.9" width="2" height="4.3" fill="#0a8a0a"/><rect x="343.2" y="382.2" width="2" height="2" fill="#0a8a0a"/><rect x="348.7" y="384.2" width="2" height="3" fill="#ff2020"/><rect x="354.2" y="384.2" width="2" height="5" fill="#ff2020"/><rect x="359.8" y="384.2" width="2" height="7" fill="#ff2020"/><rect x="365.3" y="384.2" width="2" height="7" fill="#ff2020"/><rect x="370.8" y="384.2" width="2" height="6.3" fill="#ff2020"/><rect x="376.3" y="384.2" width="2" height="5.5" fill="#ff2020"/><rect x="381.8" y="384.2" width="2" height="3.3" fill="#ff2020"/><rect x="399" y="382.7" width="2" height="1.5" fill="#0a8a0a"/><rect x="420.7" y="384.2" width="2" height="2" fill="#ff2020"/><rect x="426.2" y="384.2" width="2" height="7.5" fill="#ff2020"/><rect x="431" y="384.2" width="2" height="17.5" fill="#ff2020"/><rect x="436.5" y="384.2" width="2" height="22.6" fill="#ff2020"/><rect x="442.3" y="384.2" width="2" height="26.3" fill="#ff2020"/><rect x="447.8" y="384.2" width="2" height="22.6" fill="#ff2020"/><rect x="453.6" y="384.2" width="2" height="21.3" fill="#ff2020"/><rect x="459" y="384.2" width="2" height="21.3" fill="#ff2020"/><rect x="464.6" y="384.2" width="2" height="22.6" fill="#ff2020"/><rect x="470" y="384.2" width="2" height="16.3" fill="#ff2020"/><rect x="475.7" y="384.2" width="2" height="12.5" fill="#ff2020"/><rect x="481.2" y="384.2" width="2" height="10" fill="#ff2020"/><rect x="486.7" y="384.2" width="2" height="5.5" fill="#ff2020"/><rect x="492.5" y="384.2" width="2" height="2.5" fill="#ff2020"/><rect x="498" y="382.2" width="2" height="2" fill="#0a8a0a"/><rect x="503.5" y="379.7" width="2" height="4.5" fill="#0a8a0a"/><rect x="509" y="379.7" width="2" height="4.5" fill="#0a8a0a"/><rect x="514.5" y="380.4" width="2" height="3.8" fill="#0a8a0a"/><rect x="520" y="380.4" width="2" height="3.8" fill="#0a8a0a"/><rect x="525.6" y="377.9" width="2" height="6.3" fill="#0a8a0a"/><rect x="531" y="377.9" width="2" height="6.3" fill="#0a8a0a"/><rect x="536.6" y="379.9" width="2" height="4.3" fill="#0a8a0a"/><rect x="542" y="382.2" width="2" height="2" fill="#0a8a0a"/><rect x="547.7" y="384.2" width="2" height="1.5" fill="#ff2020"/><rect x="559" y="381.7" width="2" height="2.5" fill="#0a8a0a"/><rect x="564.5" y="377.9" width="2" height="6.3" fill="#0a8a0a"/><rect x="570" y="374.2" width="2" height="10" fill="#0a8a0a"/><rect x="575.5" y="370.4" width="2" height="13.8" fill="#0a8a0a"/><rect x="581" y="368.4" width="2" height="15.8" fill="#0a8a0a"/><rect x="586.5" y="367.4" width="2" height="16.8" fill="#0a8a0a"/><rect x="592" y="367.2" width="2" height="17" fill="#0a8a0a"/><rect x="597.6" y="364.6" width="2" height="19.6" fill="#0a8a0a"/><rect x="603" y="365.4" width="2" height="18.8" fill="#0a8a0a"/><rect x="608.6" y="366.6" width="2" height="17.6" fill="#0a8a0a"/><rect x="614" y="366.6" width="2" height="17.6" fill="#0a8a0a"/><rect x="619.7" y="366.6" width="2" height="17.6" fill="#0a8a0a"/><rect x="625" y="367.2" width="2" height="17" fill="#0a8a0a"/><rect x="630.7" y="368.6" width="2" height="15.6" fill="#0a8a0a"/><rect x="636.2" y="370.4" width="2" height="13.8" fill="#0a8a0a"/><rect x="641.7" y="373.7" width="2" height="10.5" fill="#0a8a0a"/><rect x="647" y="375.4" width="2" height="8.8" fill="#0a8a0a"/><rect x="652.5" y="375.4" width="2" height="8.8" fill="#0a8a0a"/><rect x="658" y="374.2" width="2" height="10" fill="#0a8a0a"/><rect x="663.5" y="372.9" width="2" height="11.3" fill="#0a8a0a"/><rect x="669" y="371.7" width="2" height="12.5" fill="#0a8a0a"/><rect x="674.5" y="372.2" width="2" height="12" fill="#0a8a0a"/><rect x="680" y="372.2" width="2" height="12" fill="#0a8a0a"/><rect x="685.5" y="372.2" width="2" height="12" fill="#0a8a0a"/><rect x="691" y="372.9" width="2" height="11.3" fill="#0a8a0a"/><rect x="696.5" y="374.2" width="2" height="10" fill="#0a8a0a"/><rect x="702" y="374.9" width="2" height="9.3" fill="#0a8a0a"/><rect x="707.5" y="375.4" width="2" height="8.8" fill="#0a8a0a"/><rect x="713" y="377.9" width="2" height="6.3" fill="#0a8a0a"/><rect x="718.5" y="377.9" width="2" height="6.3" fill="#0a8a0a"/><rect x="724" y="377.2" width="2" height="7" fill="#0a8a0a"/><rect x="729.5" y="377.9" width="2" height="6.3" fill="#0a8a0a"/><rect x="735" y="381.7" width="2" height="2.5" fill="#0a8a0a"/><rect x="740.5" y="382.2" width="2" height="2" fill="#0a8a0a"/><rect x="746" y="382.2" width="2" height="2" fill="#0a8a0a"/><rect x="751.5" y="382.2" width="2" height="2" fill="#0a8a0a"/><rect x="757" y="382.2" width="2" height="2" fill="#0a8a0a"/><rect x="762.5" y="382.2" width="2" height="2" fill="#0a8a0a"/><rect x="768" y="381.7" width="2" height="2.5" fill="#0a8a0a"/><rect x="773.5" y="382.2" width="2" height="2" fill="#0a8a0a"/>
<path d="M13,366.6C14.2,366.6 22.3,367 25,366.6C27.7,366.2 36.5,363.5 40,363C43.5,362.5 56,362.2 60,362C64,361.8 76.5,360.7 80,361C83.5,361.3 91,364 95,365.4C99,366.8 116.4,373.5 120.4,374.6C124.5,375.7 132.5,376.1 135.5,376C138.5,375.9 147.5,374.2 150.5,374C153.5,373.8 162.6,373.3 165.6,373.6C168.6,373.9 177.6,376.4 180.6,377C183.6,377.6 192.2,378.9 195.7,379.7C199.2,380.5 212.5,384.1 216,385.4C219.5,386.6 227.7,390.8 231,392.2C234.3,393.6 245.1,398.4 248.6,399.7C252.1,401 263.2,404.6 266.2,405.5C269.2,406.4 276.2,408.4 278.7,408.8C281.2,409.2 288.5,409.8 291.3,409.3C294.1,408.8 303.3,405.3 306.3,404.2C309.3,403.1 318.6,399.6 321.4,398.7C324.2,397.8 331.5,395.1 334,394.7C336.5,394.3 343.8,394.4 346.5,394.7C349.2,395 358.5,397.2 361.5,398C364.5,398.8 373.6,401.6 376.6,402.2C379.6,402.8 387.6,403.4 391.6,403.7C395.6,403.9 413.4,404.5 416.7,404.7C420,404.9 422.7,404.9 424.2,405.5C425.7,406.1 429.7,408.2 432,410.5C434.3,412.8 443.7,424.6 447,428C450.3,431.4 461.6,441.9 464.6,444.4C467.6,446.9 474.2,451.9 477,453.2C479.8,454.5 489.2,457.1 492.2,457.4C495.2,457.6 504.3,456.2 507.3,455.7C510.3,455.2 519.3,453.1 522.3,452.4C525.3,451.7 534.4,449.2 537.4,448.9C540.4,448.6 549.6,449.5 552.4,449.4C555.2,449.3 562.5,448.8 565,448C567.5,447.2 574.7,443.5 577.5,441.9C580.3,440.3 589.6,434.1 592.6,431.8C595.6,429.5 604.6,421.7 607.6,419.3C610.6,416.9 619.7,410.3 622.7,408C625.7,405.7 635.5,398.2 637.7,396.7C639.9,395.2 643,393.9 645,393C647,392.1 655,389.3 657.5,388C660,386.7 667.5,381.8 670,380.4C672.5,379 680.1,375.1 682.6,374C685.1,372.9 692.5,369.9 695,369C697.5,368.1 705.2,366.1 707.7,365.4C710.2,364.7 718,362.6 720.3,362C722.6,361.4 727.8,359.3 730.3,359C732.8,358.7 742.4,358.7 745.4,358.6C748.4,358.5 757.4,357.8 760.4,357.6C763.4,357.4 773.5,356.9 775,356.8" fill="none" stroke="#ff3030" stroke-width="1.15" stroke-linejoin="round" />
<path d="M13,366C14.2,365.7 22.3,363.6 25,362.9C27.7,362.2 37,359.4 40,359C43,358.6 52.7,358.7 55,359C57.3,359.3 60.9,361.4 62.7,361.6C64.5,361.8 71.1,361 72.8,361C74.5,361 78.3,360.7 80,361.6C81.7,362.5 88,368.9 90,370.4C92,371.9 98,375.8 100,376.6C102,377.4 108.1,378.3 110,378.7C111.9,379.1 117,381.2 119,381C121,380.8 128.6,377.6 130.5,377C132.4,376.4 136.5,375.6 138,375C139.5,374.4 143.2,371.2 145.5,370.9C147.8,370.6 158.1,371.6 160.6,372.4C163.1,373.2 168.9,377.9 170.6,379C172.3,380.1 175.8,382.6 178,383C180.2,383.4 190,383.2 193,383.4C196,383.6 205.7,384 208,384.7C210.3,385.4 214.2,388.8 216,390.4C217.8,392 223.5,398.9 226,400.5C228.5,402.1 238.2,405.9 241,406.8C243.8,407.7 251,408.5 253.6,409.3C256.2,410.1 265.1,414.6 267.4,415C269.7,415.4 274.1,414.4 276.2,413.8C278.3,413.2 286.3,410.7 288.8,409.3C291.3,407.9 298.5,401.5 301.3,399.7C304.1,397.9 313.9,392.7 316.4,391.7C318.9,390.7 324.3,389.9 326.4,389.7C328.5,389.5 335.7,389.2 337.7,389.7C339.7,390.1 344.1,392.6 346.5,394.2C348.9,395.8 358.8,404.5 361.5,406C364.2,407.5 371.5,408.8 374,408.8C376.5,408.8 384.3,406.8 386.6,406.3C388.9,405.8 393.6,404.3 396.6,404.2C399.6,404.1 413.9,404.5 416.7,405C419.5,405.5 422.7,407.2 424.2,409.3C425.7,411.4 430.7,422.6 432,425.6C433.3,428.6 435.9,437 437,439.4C438.1,441.8 441.5,448.4 443.3,450C445.1,451.6 452.3,453.9 454.6,455.7C456.9,457.5 463.1,467.3 465.9,468.2C468.7,469.1 479.3,465.4 482.2,464.5C485.1,463.6 492.4,460.7 494.7,459.4C497,458.1 502.5,452.3 504.8,451.4C507.1,450.5 514.5,450.8 517.3,450C520.1,449.2 529.9,444.2 532.4,443.9C534.9,443.6 540.8,446.3 542.4,446.9C544,447.5 547.2,449.8 548.7,450C550.2,450.2 555.5,450 557.4,448.9C559.3,447.8 565.5,441.4 567.5,439.4C569.5,437.4 575.5,431.4 577.5,429.3C579.5,427.2 585.6,420.2 587.6,418C589.6,415.8 595.1,408.8 597.6,406.8C600.1,404.8 609.6,400.1 612.6,398C615.6,395.9 625.2,386.9 627.7,385.4C630.2,383.9 636,383.5 637.7,383.4C639.4,383.3 643.3,384.2 645,384C646.7,383.8 653,382.7 655,381.7C657,380.7 663,375.4 665,374C667,372.6 673,368.9 675,367.9C677,366.9 683,364.7 685,364C687,363.3 693,361.7 695,361C697,360.3 703.2,357.5 705,357.3C706.8,357.1 711.2,358.9 712.7,359C714.2,359.1 718.5,358.2 720.3,357.8C722.1,357.4 728.8,354.9 730.3,354.8C731.8,354.7 733.8,356.8 735.3,357C736.8,357.2 742.9,357.3 745.4,357.3C747.9,357.3 757.4,357.1 760.4,357C763.4,356.9 773.5,356.8 775,356.8" fill="none" stroke="#3030ff" stroke-width="1" stroke-linejoin="round" />
<line x1="598.8" y1="364.9" x2="810.6" y2="384.7" stroke="#f01818" stroke-width="1.9" />
<rect x="548.2" y="459" width="8" height="3.8" fill="#00f000"/>
<rect x="769.2" y="362.8" width="7.5" height="3.8" fill="#ff1010"/>
<line x1="9" y1="503.7" x2="814.5" y2="503.7" stroke="#000" stroke-width="1.4" />
<line x1="9" y1="561" x2="814.5" y2="561" stroke="#000" stroke-width="1.4" />
<line x1="9" y1="532.3" x2="814.5" y2="532.3" stroke="#a01010" stroke-width="1.3" />
<line x1="8.8" y1="550.6" x2="148" y2="533" stroke="#18a018" stroke-width="1" />
<line x1="50" y1="505.4" x2="271.5" y2="558.3" stroke="#000" stroke-width="0.9" /><line x1="8.8" y1="561.4" x2="115.4" y2="586.5" stroke="#000" stroke-width="0.9" /><line x1="101.6" y1="570.7" x2="151.8" y2="503" stroke="#000" stroke-width="0.8" /><line x1="113" y1="572" x2="163" y2="507.4" stroke="#000" stroke-width="0.8" /><line x1="228.5" y1="578.2" x2="322.6" y2="510.4" stroke="#000" stroke-width="0.8" /><line x1="236" y1="572" x2="344" y2="511.7" stroke="#000" stroke-width="0.8" /><line x1="246" y1="586.5" x2="341.5" y2="530.5" stroke="#000" stroke-width="0.8" /><line x1="305.8" y1="487" x2="493.5" y2="521.7" stroke="#000" stroke-width="0.9" /><line x1="322.6" y1="520.5" x2="487" y2="552.6" stroke="#000" stroke-width="0.9" /><line x1="339" y1="570.7" x2="432" y2="582" stroke="#000" stroke-width="0.9" /><line x1="432" y1="582.7" x2="449.6" y2="584" stroke="#000" stroke-width="0.9" /><line x1="432" y1="583" x2="504.8" y2="503.4" stroke="#000" stroke-width="0.8" /><polyline points="438,541.7 454.6,531.5 478.6,518.5 504.5,503.7 532.3,495.4 560,487.5 570,484.3" fill="none" stroke="#000" stroke-width="0.9" stroke-linejoin="round" /><line x1="598.8" y1="483.4" x2="705.2" y2="483.4" stroke="#000" stroke-width="1.2" /><line x1="705.2" y1="483.4" x2="770.4" y2="508" stroke="#000" stroke-width="0.9" /><polyline points="464.8,548.1 507,541 549,534.3 560,531.5 582.5,526.5 605,520.5 627.7,514.5 648.8,510.2 671,512 695,514.3 715,515.5 732.8,521.7 752.9,531.8 770.4,539.3" fill="none" stroke="#000" stroke-width="0.9" stroke-linejoin="round" />
<polyline points="13,515.5 22.6,505.4 30,491.6 40,489 44,494 50,508 57.7,520.5 63.2,536.3 67.7,526.8 74,512.2 79.8,514.2 84,541.8 87.8,564.4 90.8,579.4 100.4,570.7 113,553 118,559.4 123,558 130.5,534.3 135.5,524.2 145.5,512.2 150.5,526.8 156.8,536.8 161.8,533.8 166.8,554.4 173,571.9 178.6,575.7 184.4,570.7 189.4,545.6 194.4,545.6 200.7,551.8 206.2,549.8 212,564.4 216,577 222.3,580.7 228.5,578.2 233.6,563 239.8,555.6 244.8,559.4 251,556.4 257.4,559.4 262.4,565.6 267.4,570 273.7,555.6 281.2,531.8 288.8,519.2 296.3,506.7 301.3,491.6 305.8,487 316.4,494 326.4,504.2 334,509.2 341.4,524.2 346.5,536.8 351.5,556.9 356.5,568 362.8,574 369,567 374,563 379,562 384,546.8 389.1,533 395.4,533.8 400.4,539.3 405.4,554.4 411.7,563 416.7,556.9 421.7,567 428,580.7 432,581.5 444.5,567 449.6,549.3 455,534.3 460.9,540.6 467,548.8 472,534.3 477,521.7 493.5,520.5 498.5,510.4 504.8,503.4 509.8,509.2 517.3,511.7 522.3,508.7 527.3,499 532.4,496 537.4,509.2 543.6,521.7 549.2,534.3 555,521.7 560,501.7 565,491.6 570,484 598.8,484 605,494 610,500.4 616.4,491.6 620,486 625,484 632.7,491.6 640.2,499 645,506.7 648.8,509.2 653.8,496.6 660,484.6 672.6,484.6 677.6,486.6 685,484 690,487.9 697.7,491 704,484 709,495.4 714,514.2 719,512.2 724,496.6 729,492.9 732.8,501.7 737.8,519.2 742.8,526.8 747.9,513 752.9,505.4 760.4,504.2 768,507.2 774.2,511.7" fill="none" stroke="#2525d0" stroke-width="1" stroke-linejoin="round" />
<path d="M13,549.8C15.6,547 18.1,545.8 22.6,539.3C27.1,532.8 25.4,532.9 30,525.5C34.6,518.1 34.7,517.2 40,511.7C45.3,506.2 45.3,506.7 50,504.7C54.7,502.7 53.6,503.5 57.7,504.2C61.8,504.9 60.5,505.7 65.2,507.2C69.9,508.7 70.6,507.5 75.3,509.7C80,511.9 78.8,510.9 82.8,515.5C86.8,520.1 85.6,519.9 90.3,526.8C95,533.7 95,535.6 100.4,541.3C105.8,547 105.7,545.2 110.4,548C115.1,550.8 114,548.8 118,551.8C122,554.8 121.4,557.2 125.4,559.4C129.4,561.6 129,562 133,560C137,558 135.8,556.7 140.5,551.8C145.2,546.9 145.1,546.1 150.5,541.8C155.9,537.5 155.2,537.4 160.6,535.5C166,533.6 165.3,533.1 170.6,534.8C175.9,536.5 175.2,537.9 180.6,541.8C186,545.7 185.3,545.9 190.7,549.3C196.1,552.7 196,552.5 200.7,554.4C205.4,556.3 204.1,554.7 208.2,556.4C212.3,558.1 211.3,558.9 216,560.6C220.7,562.3 219.3,561.5 226,562.6C232.7,563.7 233.6,563.9 241,564.9C248.4,565.9 246.9,566.2 253.6,566.4C260.3,566.6 260.2,567.5 266.2,565.6C272.2,563.7 270.2,563.4 276.2,559.4C282.2,555.4 282.8,556 288.8,550.6C294.8,545.2 293.5,546.3 298.8,539.3C304.1,532.3 303.4,531.9 308.8,524.2C314.2,516.5 314.2,516.1 318.9,510.4C323.6,504.7 321.7,505.9 326.4,503C331.1,500.1 331.4,499.7 336.4,499.7C341.4,499.7 340.9,499.1 345.2,503C349.5,506.9 348.4,507.2 352.7,514.2C357,521.2 356.5,521.3 361.5,529.3C366.5,537.3 366.1,537.8 371.5,544.3C376.9,550.8 376.2,550.6 381.6,553.8C387,557 385.6,556.2 391.6,556.4C397.6,556.6 398.2,555.9 404.2,554.4C410.2,552.9 409.5,551.6 414.2,550.6C418.9,549.6 417,549.1 421.7,550.6C426.4,552.1 427.3,553.3 432,556.4C436.7,559.5 435.5,560.1 439.5,562.4C443.5,564.7 442.3,565.2 447,564.9C451.7,564.6 451,563.2 457,561.4C463,559.6 462.9,562.6 469.6,558C476.3,553.4 475.5,551.3 482.2,544.3C488.9,537.3 488,537.5 494.7,531.8C501.4,526.1 500.6,527.3 507.3,523C514,518.7 513.1,519.3 519.8,515.5C526.5,511.7 526.4,510.5 532.4,508.7C538.4,506.9 536.4,507.6 542.4,508.7C548.4,509.8 548.3,513.2 555,513C561.7,512.8 560.2,510.7 567.5,508C574.8,505.3 575.8,506 582.5,503C589.2,500 587.9,500.4 592.6,496.6C597.3,492.8 594.7,491.2 600,488.6C605.3,486 605.2,487 612.6,487C620,487 621,487.7 627.7,488.6C634.4,489.5 633.1,489 637.7,490.4C642.3,491.8 641.1,492.9 645,494C648.9,495.1 647.2,495 652.5,494.6C657.8,494.2 657,493.2 665,492.4C673,491.6 674.6,492.8 682.6,491.6C690.6,490.4 689.3,489.6 695,487.9C700.7,486.2 699.3,485.1 704,485.4C708.7,485.7 708.4,487 712.7,489C717,491 715.6,491.4 720.3,492.9C725,494.4 725,492.3 730.3,494.6C735.6,496.9 734.9,498.3 740.3,501.7C745.7,505.1 745,505.5 750.4,507.2C755.8,508.9 755.7,508.1 760.4,508C765.1,507.9 764,506.4 768,506.7C772,507 773.5,508.5 775.5,509.2" fill="none" stroke="#8e1010" stroke-width="2.0" stroke-linejoin="round" />
<rect x="543.2" y="548" width="7.4" height="3.8" fill="#00f000"/>
<rect x="725.3" y="480.3" width="7" height="3.7" fill="#ff1010"/>
<rect x="758.6" y="489" width="7.4" height="3.8" fill="#ff1010"/>
<rect x="725.3" y="491.4" width="7" height="3.4" fill="#ff1010"/>
<g font-family="'Liberation Sans',sans-serif" font-style="italic"><text transform="translate(816.3,330.3) scale(0.78,1)" fill="#000" font-size="9" >700.00</text><text transform="translate(816.3,297.8) scale(0.78,1)" fill="#000" font-size="9" >800.00</text><text transform="translate(816.3,265.3) scale(0.78,1)" fill="#000" font-size="9" >900.00</text><text transform="translate(816.3,232.9) scale(0.78,1)" fill="#000" font-size="9" >1000.00</text><text transform="translate(816.3,168.2) scale(0.78,1)" fill="#000" font-size="9" >1200.00</text><text transform="translate(816.3,135.7) scale(0.78,1)" fill="#000" font-size="9" >1300.00</text><text transform="translate(816.3,103.4) scale(0.78,1)" fill="#000" font-size="9" >1400.00</text><text transform="translate(816.3,71.4) scale(0.78,1)" fill="#000" font-size="9" >1500.00</text><text transform="translate(816.3,39.1) scale(0.78,1)" fill="#000" font-size="9" >1600.00</text><rect x="814.5" y="198.4" width="35.4" height="8.6" fill="#ff10ff"/><text transform="translate(816.3,206.3) scale(0.78,1)" fill="#ffd0ff" font-size="9" >1086.81</text><rect x="814.5" y="192.8" width="35.4" height="8.7" fill="#000"/><text transform="translate(816.3,200.6) scale(0.78,1)" fill="#fff" font-size="9" >1102.47</text><rect x="814.5" y="245.1" width="35.5" height="9.1" fill="#0000ff"/><text transform="translate(816.3,253) scale(0.78,1)" fill="#fff" font-size="9" >943.30</text><text transform="translate(816.3,354.6) scale(0.78,1)" fill="#000" font-size="9" >50.00</text><rect x="814.5" y="359.4" width="35.5" height="2.4" fill="#ff1010"/><rect x="814.5" y="351.8" width="35.5" height="8.9" fill="#0000ff"/><text transform="translate(816.3,359.2) scale(0.78,1)" fill="#fff" font-size="9" >40.37</text><rect x="814.5" y="378.3" width="35.5" height="9.4" fill="#008000"/><text transform="translate(816.3,386.2) scale(0.78,1)" fill="#fff" font-size="9" >9.47</text><text transform="translate(816.3,419.8) scale(0.78,1)" fill="#000" font-size="9" >-50.00</text><text transform="translate(816.3,453.2) scale(0.78,1)" fill="#000" font-size="9" >-100.00</text><text transform="translate(816.3,486.4) scale(0.78,1)" fill="#000" font-size="9" >100.00</text><text transform="translate(816.3,505) scale(0.78,1)" fill="#000" font-size="9" >80.00</text><text transform="translate(816.3,524.7) scale(0.78,1)" fill="#000" font-size="9" >60.00</text><text transform="translate(816.3,544.8) scale(0.78,1)" fill="#000" font-size="9" >40.00</text><text transform="translate(816.3,563.6) scale(0.78,1)" fill="#000" font-size="9" >20.00</text><text transform="translate(816.3,583.7) scale(0.78,1)" fill="#000" font-size="9" >0.00</text><rect x="814.5" y="504.7" width="35.5" height="3.3" fill="#8a1010"/><rect x="814.5" y="507.8" width="35.5" height="9.2" fill="#000080"/><text transform="translate(816.3,515.6) scale(0.78,1)" fill="#fff" font-size="9" >78.24</text><text transform="translate(11.3,355.8) scale(0.81,1)" fill="#000" font-size="9" >MACD(12,24,9)</text><text transform="translate(11.3,484.4) scale(0.81,1)" fill="#000" font-size="9" >StochRSI(14,21(2),9)</text><text transform="translate(69,601) scale(0.78,1)" fill="#000" font-size="9" >Jul</text><text transform="translate(146.3,601) scale(0.78,1)" fill="#000" font-size="9" >Oct</text><text transform="translate(218,601) scale(0.78,1)" fill="#000" font-size="9" >Jan</text><text transform="translate(218,594) scale(0.78,1)" fill="#000" font-size="9" >2008</text><text transform="translate(289.8,601) scale(0.78,1)" fill="#000" font-size="9" >Apr</text><text transform="translate(361.5,601) scale(0.78,1)" fill="#000" font-size="9" >Jul</text><text transform="translate(433.3,601) scale(0.78,1)" fill="#000" font-size="9" >Oct</text><text transform="translate(505.1,601) scale(0.78,1)" fill="#000" font-size="9" >Jan</text><text transform="translate(505.1,594) scale(0.78,1)" fill="#000" font-size="9" >2009</text><text transform="translate(576.8,601) scale(0.78,1)" fill="#000" font-size="9" >Apr</text><text transform="translate(648.6,601) scale(0.78,1)" fill="#000" font-size="9" >Jul</text><text transform="translate(720.3,601) scale(0.78,1)" fill="#000" font-size="9" >Oct</text><text transform="translate(792.1,601) scale(0.78,1)" fill="#000" font-size="9" >Jan</text><text transform="translate(792.1,594) scale(0.78,1)" fill="#000" font-size="9" >2010</text></g>
</g>
</svg>
<div id="tb">
<div class="ttl">INDEX:$SPX,W -- NEW S &amp; P 500 INDEX</div>
<div class="gt" style="left:748.3px">Sym</div>
<div class="gt" style="left:777.2px;color:#8c8c8c">Intv</div>
</div>
</body></html>
